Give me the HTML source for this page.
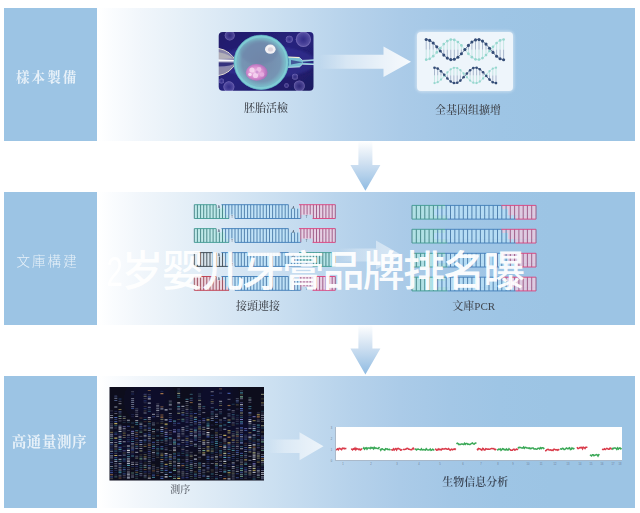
<!DOCTYPE html>
<html lang="zh"><head><meta charset="utf-8"><title>流程</title>
<style>
html,body{margin:0;padding:0;background:#fff;}
body{width:640px;height:513px;overflow:hidden;position:relative;font-family:"Liberation Serif","Noto Serif CJK SC",serif;}
.lb{position:absolute;left:3.5px;width:93.5px;background:#9cc4e4;}
.pn{position:absolute;left:98px;width:537px;background:linear-gradient(90deg,#ffffff 0px,#fafcfe 14px,#f1f6fb 42px,#e6f0f8 82px,#dbe9f5 122px,#cfe2f2 162px,#c4dbef 202px,#b6d2eb 252px,#abcbe8 302px,#a3c7e6 352px,#9ec5e5 402px,#9cc4e4 452px,#9cc4e4 537px);}
.lab{position:absolute;left:3.5px;width:93.5px;text-align:center;color:rgba(255,255,255,.76);font-weight:500;filter:blur(.35px);font-size:13px;line-height:16px;letter-spacing:2.45px;text-indent:2.45px;white-space:nowrap;}
.cap{filter:blur(.3px);position:absolute;text-align:center;color:#41464e;font-weight:500;font-size:11px;line-height:12px;white-space:nowrap;transform:translateX(-50%);}
.wm{position:absolute;left:100px;top:242px;font-family:"Liberation Sans","Noto Sans CJK SC",sans-serif;font-weight:500;font-size:42px;line-height:60px;color:rgba(255,255,255,.95);white-space:nowrap;letter-spacing:-1.8px;}
svg{position:absolute;left:0;top:0;}
</style></head><body>

<div class="lb" style="top:8px;height:132.5px"></div><div class="pn" style="top:8px;height:132.5px"></div>
<div class="lb" style="top:191.5px;height:133.0px"></div><div class="pn" style="top:191.5px;height:133.0px"></div>
<div class="lb" style="top:375.5px;height:132.0px"></div><div class="pn" style="top:375.5px;height:132.0px"></div>
<svg width="640" height="513" viewBox="0 0 640 513">
<defs>
<linearGradient id="ga" x1="0" x2="1" y1="0" y2="0"><stop offset="0" stop-color="#fff" stop-opacity="0"/><stop offset=".3" stop-color="#fff" stop-opacity=".45"/><stop offset=".7" stop-color="#fff" stop-opacity=".75"/><stop offset="1" stop-color="#fff" stop-opacity=".9"/></linearGradient>
<linearGradient id="gd" x1="0" x2="0" y1="0" y2="1"><stop offset="0" stop-color="#ffffff"/><stop offset=".45" stop-color="#cfe0f1"/><stop offset="1" stop-color="#8fbbe2"/></linearGradient>
<radialGradient id="cell" cx=".5" cy=".5" r=".5"><stop offset="0" stop-color="#748aab"/><stop offset=".7" stop-color="#7695b4"/><stop offset=".86" stop-color="#7ab5c6"/><stop offset="1" stop-color="#6cc4cf"/></radialGradient>
<radialGradient id="nuc" cx=".45" cy=".5" r=".55"><stop offset="0" stop-color="#f3c6ea"/><stop offset=".6" stop-color="#d98fd0"/><stop offset="1" stop-color="#a86cb8"/></radialGradient>
<radialGradient id="bub" cx=".5" cy=".5" r=".5"><stop offset="0" stop-color="#5a4fb0" stop-opacity=".25"/><stop offset=".8" stop-color="#8a7fd0" stop-opacity=".45"/><stop offset="1" stop-color="#b5a8e8" stop-opacity=".6"/></radialGradient>
<linearGradient id="emb" x1="0" x2="1" y1="0" y2="1"><stop offset="0" stop-color="#201a68"/><stop offset=".5" stop-color="#27227c"/><stop offset="1" stop-color="#1b185c"/></linearGradient>
<clipPath id="embc"><rect x="218.7" y="32" width="94.8" height="58.7" rx="4"/></clipPath>
<clipPath id="sqc"><rect x="109.5" y="387" width="154.5" height="93.5"/></clipPath>
<filter id="b1"><feGaussianBlur stdDeviation=".6"/></filter>
<filter id="b5"><feGaussianBlur stdDeviation=".5"/></filter>
<filter id="b4"><feGaussianBlur stdDeviation=".8"/></filter>
<filter id="b2"><feGaussianBlur stdDeviation="1.2"/></filter>
<filter id="b3"><feGaussianBlur stdDeviation="6"/></filter>
</defs>
<path d="M319 54.8H383.5V46.55L411 61.8L383.5 77.05V68.8H319Z" fill="url(#ga)" opacity="1"/>
<path d="M338 248.5H376V240.5L401.5 255L376 269.5V261.5H338Z" fill="url(#ga)" opacity="0.6"/>
<path d="M268 439.45H299.5V432.2L323.5 446.2L299.5 460.2V452.95H268Z" fill="url(#ga)" opacity="0.8"/>
<path d="M358.4 141H372.4V165H380.4L365.4 190.8L350.4 165H358.4Z" fill="url(#gd)"/>
<path d="M358.4 325H372.4V348.6H380.4L365.4 374.6L350.4 348.6H358.4Z" fill="url(#gd)"/>
<g clip-path="url(#embc)"><g filter="url(#b5)"><g><rect x="215" y="28" width="103" height="67" fill="url(#emb)"/><ellipse cx="266" cy="62" rx="50" ry="16" fill="#3a3aa0" opacity=".45" filter="url(#b2)"/><circle cx="229.7" cy="35.5" r="5" fill="url(#bub)"/><circle cx="303.4" cy="39.3" r="7.6" fill="url(#bub)"/><circle cx="289.3" cy="39.3" r="3.5" fill="url(#bub)"/><circle cx="228.9" cy="86.8" r="5.5" fill="url(#bub)"/><circle cx="299.3" cy="86" r="5.5" fill="url(#bub)"/><circle cx="295" cy="76.8" r="3" fill="url(#bub)"/><circle cx="221.5" cy="81" r="2.5" fill="url(#bub)"/><circle cx="286.5" cy="85.5" r="2.2" fill="url(#bub)"/><path d="M218 48.5 Q230 50.5 235.5 62 Q230 73.5 218 75.5Z" fill="#a9a7bc" opacity=".75"/><path d="M218 52 Q229 54 233.5 58.5 L218 59Z" fill="#cfcbc0" opacity=".6"/><path d="M218 59.3 L234.5 60 L234.5 61.6 L218 61.4Z" fill="#ffffff" opacity=".95"/><path d="M218 62.5 L235 62.8 Q233 66.5 218 66.5Z" fill="#2a2a78" opacity=".9"/><path d="M218 67.5 Q229 68 233 67 Q229 72.5 218 74Z" fill="#8d8aa8" opacity=".8"/><path d="M218 48.3 Q231 50.5 236 62 Q231 73.5 218 75.7" fill="none" stroke="#e8e2d2" stroke-width="1"/><path d="M287.5 56.8 L299.5 57.6 L302.5 60.4 L315 59.6 L315 60.8 L303 61.8 L303 62.8 L315 63.6 L315 64.8 L302.5 64.2 L299.5 67 L287.5 67.6 Q290.5 62 287.5 56.8Z" fill="#7fcfdc" opacity=".9"/><path d="M288 57 L299.5 57.7" fill="none" stroke="#f4f0d0" stroke-width="1.2"/><path d="M288 67.4 L299.5 66.9 L302.5 64.2 L315 64.6 M299.5 57.7 L302.5 60.4 L315 59.8" fill="none" stroke="#d8f2f6" stroke-width=".8" opacity=".9"/><path d="M291 60 L303 62.2 L291 64.6Z" fill="#2c2c80" opacity=".7"/><circle cx="261.2" cy="62.3" r="27.4" fill="url(#cell)"/><ellipse cx="259" cy="52" rx="19" ry="12" fill="#6a80a6" opacity=".45" filter="url(#b2)"/><circle cx="261.2" cy="62.3" r="25.9" fill="none" stroke="#8ad6da" stroke-width="2.2" opacity=".6"/><circle cx="261.2" cy="62.3" r="27.2" fill="none" stroke="#5aa9bd" stroke-width=".7" opacity=".8"/><ellipse cx="256.7" cy="72.4" rx="10.9" ry="8.4" fill="url(#nuc)"/><circle cx="252" cy="70" r="2.6" fill="#f7dff3" opacity=".8"/><circle cx="259" cy="69.5" r="2.4" fill="#f0c4ea" opacity=".8"/><circle cx="255.5" cy="75.5" r="2.6" fill="#f6d8f2" opacity=".8"/><circle cx="262" cy="74.5" r="2.3" fill="#e8b2e2" opacity=".8"/><circle cx="250" cy="74.5" r="1.8" fill="#fbeefa" opacity=".8"/><circle cx="257" cy="72" r="1.6" fill="#c98fd0" opacity=".8"/><ellipse cx="270.3" cy="49.2" rx="5.3" ry="4.6" fill="#f3f1f4"/><ellipse cx="270.5" cy="49.4" rx="2.6" ry="2.2" fill="#cfc6d2" opacity=".7"/></g></g></g>
<rect x="415.5" y="30.5" width="99" height="62" rx="6" fill="#fff" opacity=".35" filter="url(#b2)"/>
<rect x="417" y="32" width="96" height="59" rx="4" fill="#eef5fb"/>
<g filter="url(#b1)" opacity=".95">
<path d="M426.2 49.6V59.7M429.7 49.6V58.8M433.2 49.6V56.2M436.8 49.6V52.4M443.8 49.6V44.1M447.3 49.6V41.1M450.8 49.6V39.6M454.3 49.6V39.9M457.9 49.6V42.0M461.4 49.6V45.4M468.4 49.6V53.8M471.9 49.6V57.2M475.5 49.6V59.3M479.0 49.6V59.6M482.5 49.6V58.1M486.0 49.6V55.1M493.0 49.6V46.8M496.6 49.6V43.0M500.1 49.6V40.4M503.6 49.6V39.5" stroke="#b0e0d9" stroke-width=".7" fill="none"/><path d="M426.2 39.5V49.6M429.7 40.4V49.6M433.2 43.0V49.6M436.8 46.8V49.6M443.8 55.1V49.6M447.3 58.1V49.6M450.8 59.6V49.6M454.3 59.3V49.6M457.9 57.2V49.6M461.4 53.8V49.6M468.4 45.4V49.6M471.9 42.0V49.6M475.5 39.9V49.6M479.0 39.6V49.6M482.5 41.1V49.6M486.0 44.1V49.6M493.0 52.4V49.6M496.6 56.2V49.6M500.1 58.8V49.6M503.6 59.7V49.6" stroke="#8496b4" stroke-width=".7" fill="none"/><polyline points="426.2,59.7 427.2,59.6 428.2,59.4 429.2,59.0 430.2,58.5 431.2,57.9 432.2,57.1 433.2,56.2 434.2,55.2 435.2,54.2 436.3,53.0 437.3,51.8 438.3,50.6 439.3,49.4 440.3,48.2 441.3,47.0 442.3,45.8 443.3,44.7 444.3,43.6 445.3,42.7 446.3,41.8 447.3,41.1 448.3,40.5 449.3,40.0 450.3,39.7 451.3,39.5 452.3,39.5 453.3,39.6 454.3,39.9 455.4,40.3 456.4,40.9 457.4,41.6 458.4,42.4 459.4,43.3 460.4,44.3 461.4,45.4 462.4,46.6 463.4,47.8 464.4,49.0 465.4,50.2 466.4,51.4 467.4,52.6 468.4,53.8 469.4,54.9 470.4,55.9 471.4,56.8 472.4,57.6 473.4,58.3 474.4,58.9 475.5,59.3 476.5,59.6 477.5,59.7 478.5,59.7 479.5,59.5 480.5,59.2 481.5,58.7 482.5,58.1 483.5,57.4 484.5,56.5 485.5,55.6 486.5,54.5 487.5,53.4 488.5,52.2 489.5,51.0 490.5,49.8 491.5,48.6 492.5,47.4 493.5,46.2 494.6,45.0 495.6,44.0 496.6,43.0 497.6,42.1 498.6,41.3 499.6,40.7 500.6,40.2 501.6,39.8 502.6,39.6 503.6,39.5" fill="none" stroke="#93d6cd" stroke-width=".6"/><polyline points="426.2,39.5 427.2,39.6 428.2,39.8 429.2,40.2 430.2,40.7 431.2,41.3 432.2,42.1 433.2,43.0 434.2,44.0 435.2,45.0 436.3,46.2 437.3,47.4 438.3,48.6 439.3,49.8 440.3,51.0 441.3,52.2 442.3,53.4 443.3,54.5 444.3,55.6 445.3,56.5 446.3,57.4 447.3,58.1 448.3,58.7 449.3,59.2 450.3,59.5 451.3,59.7 452.3,59.7 453.3,59.6 454.3,59.3 455.4,58.9 456.4,58.3 457.4,57.6 458.4,56.8 459.4,55.9 460.4,54.9 461.4,53.8 462.4,52.6 463.4,51.4 464.4,50.2 465.4,49.0 466.4,47.8 467.4,46.6 468.4,45.4 469.4,44.3 470.4,43.3 471.4,42.4 472.4,41.6 473.4,40.9 474.4,40.3 475.5,39.9 476.5,39.6 477.5,39.5 478.5,39.5 479.5,39.7 480.5,40.0 481.5,40.5 482.5,41.1 483.5,41.8 484.5,42.7 485.5,43.6 486.5,44.7 487.5,45.8 488.5,47.0 489.5,48.2 490.5,49.4 491.5,50.6 492.5,51.8 493.5,53.0 494.6,54.2 495.6,55.2 496.6,56.2 497.6,57.1 498.6,57.9 499.6,58.5 500.6,59.0 501.6,59.4 502.6,59.6 503.6,59.7" fill="none" stroke="#2c4470" stroke-width=".8"/><g fill="#93d6cd"><circle cx="426.2" cy="59.7" r="1.36"/><circle cx="429.7" cy="58.8" r="1.36"/><circle cx="433.2" cy="56.2" r="1.36"/><circle cx="436.8" cy="52.4" r="1.36"/><circle cx="440.3" cy="48.2" r="1.36"/><circle cx="443.8" cy="44.1" r="1.36"/><circle cx="447.3" cy="41.1" r="1.36"/><circle cx="450.8" cy="39.6" r="1.36"/><circle cx="454.3" cy="39.9" r="1.36"/><circle cx="457.9" cy="42.0" r="1.36"/><circle cx="461.4" cy="45.4" r="1.36"/><circle cx="464.9" cy="49.6" r="1.36"/><circle cx="468.4" cy="53.8" r="1.36"/><circle cx="471.9" cy="57.2" r="1.36"/><circle cx="475.5" cy="59.3" r="1.36"/><circle cx="479.0" cy="59.6" r="1.36"/><circle cx="482.5" cy="58.1" r="1.36"/><circle cx="486.0" cy="55.1" r="1.36"/><circle cx="489.5" cy="51.0" r="1.36"/><circle cx="493.0" cy="46.8" r="1.36"/><circle cx="496.6" cy="43.0" r="1.36"/><circle cx="500.1" cy="40.4" r="1.36"/><circle cx="503.6" cy="39.5" r="1.36"/></g><g fill="#2c4470"><circle cx="426.2" cy="39.5" r="1.55"/><circle cx="429.7" cy="40.4" r="1.55"/><circle cx="433.2" cy="43.0" r="1.55"/><circle cx="436.8" cy="46.8" r="1.55"/><circle cx="440.3" cy="51.0" r="1.55"/><circle cx="443.8" cy="55.1" r="1.55"/><circle cx="447.3" cy="58.1" r="1.55"/><circle cx="450.8" cy="59.6" r="1.55"/><circle cx="454.3" cy="59.3" r="1.55"/><circle cx="457.9" cy="57.2" r="1.55"/><circle cx="461.4" cy="53.8" r="1.55"/><circle cx="464.9" cy="49.6" r="1.55"/><circle cx="468.4" cy="45.4" r="1.55"/><circle cx="471.9" cy="42.0" r="1.55"/><circle cx="475.5" cy="39.9" r="1.55"/><circle cx="479.0" cy="39.6" r="1.55"/><circle cx="482.5" cy="41.1" r="1.55"/><circle cx="486.0" cy="44.1" r="1.55"/><circle cx="489.5" cy="48.2" r="1.55"/><circle cx="493.0" cy="52.4" r="1.55"/><circle cx="496.6" cy="56.2" r="1.55"/><circle cx="500.1" cy="58.8" r="1.55"/><circle cx="503.6" cy="59.7" r="1.55"/></g>
<path d="M434.5 75.4V83.1M437.7 75.4V82.2M441.0 75.4V79.6M447.4 75.4V72.3M450.7 75.4V69.3M453.9 75.4V67.8M457.2 75.4V68.1M460.4 75.4V70.2M463.6 75.4V73.5M466.9 75.4V77.3M470.1 75.4V80.6M473.3 75.4V82.7M476.6 75.4V83.0M479.8 75.4V81.5M483.1 75.4V78.5M489.5 75.4V71.2M492.8 75.4V68.6M496.0 75.4V67.7" stroke="#b0e0d9" stroke-width=".7" fill="none"/><path d="M434.5 67.7V75.4M437.7 68.6V75.4M441.0 71.2V75.4M447.4 78.5V75.4M450.7 81.5V75.4M453.9 83.0V75.4M457.2 82.7V75.4M460.4 80.6V75.4M463.6 77.3V75.4M466.9 73.5V75.4M470.1 70.2V75.4M473.3 68.1V75.4M476.6 67.8V75.4M479.8 69.3V75.4M483.1 72.3V75.4M489.5 79.6V75.4M492.8 82.2V75.4M496.0 83.1V75.4" stroke="#8496b4" stroke-width=".7" fill="none"/><polyline points="434.5,83.1 435.5,83.0 436.5,82.7 437.5,82.3 438.5,81.7 439.5,80.9 440.5,80.0 441.6,79.0 442.6,77.9 443.6,76.8 444.6,75.6 445.6,74.4 446.6,73.2 447.6,72.1 448.6,71.1 449.6,70.2 450.6,69.4 451.6,68.7 452.6,68.2 453.7,67.9 454.7,67.7 455.7,67.7 456.7,68.0 457.7,68.3 458.7,68.9 459.7,69.6 460.7,70.5 461.7,71.4 462.7,72.5 463.7,73.6 464.7,74.8 465.8,76.0 466.8,77.2 467.8,78.3 468.8,79.4 469.8,80.3 470.8,81.2 471.8,81.9 472.8,82.5 473.8,82.8 474.8,83.1 475.8,83.1 476.8,82.9 477.9,82.6 478.9,82.1 479.9,81.4 480.9,80.6 481.9,79.7 482.9,78.7 483.9,77.6 484.9,76.4 485.9,75.2 486.9,74.0 487.9,72.9 488.9,71.8 490.0,70.8 491.0,69.9 492.0,69.1 493.0,68.5 494.0,68.1 495.0,67.8 496.0,67.7" fill="none" stroke="#93d6cd" stroke-width=".6"/><polyline points="434.5,67.7 435.5,67.8 436.5,68.1 437.5,68.5 438.5,69.1 439.5,69.9 440.5,70.8 441.6,71.8 442.6,72.9 443.6,74.0 444.6,75.2 445.6,76.4 446.6,77.6 447.6,78.7 448.6,79.7 449.6,80.6 450.6,81.4 451.6,82.1 452.6,82.6 453.7,82.9 454.7,83.1 455.7,83.1 456.7,82.8 457.7,82.5 458.7,81.9 459.7,81.2 460.7,80.3 461.7,79.4 462.7,78.3 463.7,77.2 464.7,76.0 465.8,74.8 466.8,73.6 467.8,72.5 468.8,71.4 469.8,70.5 470.8,69.6 471.8,68.9 472.8,68.3 473.8,68.0 474.8,67.7 475.8,67.7 476.8,67.9 477.9,68.2 478.9,68.7 479.9,69.4 480.9,70.2 481.9,71.1 482.9,72.1 483.9,73.2 484.9,74.4 485.9,75.6 486.9,76.8 487.9,77.9 488.9,79.0 490.0,80.0 491.0,80.9 492.0,81.7 493.0,82.3 494.0,82.7 495.0,83.0 496.0,83.1" fill="none" stroke="#2c4470" stroke-width=".8"/><g fill="#93d6cd"><circle cx="434.5" cy="83.1" r="1.14"/><circle cx="437.7" cy="82.2" r="1.14"/><circle cx="441.0" cy="79.6" r="1.14"/><circle cx="444.2" cy="76.0" r="1.14"/><circle cx="447.4" cy="72.3" r="1.14"/><circle cx="450.7" cy="69.3" r="1.14"/><circle cx="453.9" cy="67.8" r="1.14"/><circle cx="457.2" cy="68.1" r="1.14"/><circle cx="460.4" cy="70.2" r="1.14"/><circle cx="463.6" cy="73.5" r="1.14"/><circle cx="466.9" cy="77.3" r="1.14"/><circle cx="470.1" cy="80.6" r="1.14"/><circle cx="473.3" cy="82.7" r="1.14"/><circle cx="476.6" cy="83.0" r="1.14"/><circle cx="479.8" cy="81.5" r="1.14"/><circle cx="483.1" cy="78.5" r="1.14"/><circle cx="486.3" cy="74.8" r="1.14"/><circle cx="489.5" cy="71.2" r="1.14"/><circle cx="492.8" cy="68.6" r="1.14"/><circle cx="496.0" cy="67.7" r="1.14"/></g><g fill="#2c4470"><circle cx="434.5" cy="67.7" r="1.3"/><circle cx="437.7" cy="68.6" r="1.3"/><circle cx="441.0" cy="71.2" r="1.3"/><circle cx="444.2" cy="74.8" r="1.3"/><circle cx="447.4" cy="78.5" r="1.3"/><circle cx="450.7" cy="81.5" r="1.3"/><circle cx="453.9" cy="83.0" r="1.3"/><circle cx="457.2" cy="82.7" r="1.3"/><circle cx="460.4" cy="80.6" r="1.3"/><circle cx="463.6" cy="77.3" r="1.3"/><circle cx="466.9" cy="73.5" r="1.3"/><circle cx="470.1" cy="70.2" r="1.3"/><circle cx="473.3" cy="68.1" r="1.3"/><circle cx="476.6" cy="67.8" r="1.3"/><circle cx="479.8" cy="69.3" r="1.3"/><circle cx="483.1" cy="72.3" r="1.3"/><circle cx="486.3" cy="76.0" r="1.3"/><circle cx="489.5" cy="79.6" r="1.3"/><circle cx="492.8" cy="82.2" r="1.3"/><circle cx="496.0" cy="83.1" r="1.3"/></g>
</g>
<g filter="url(#b1)">
<rect x="194.3" y="208.29999999999998" width="30.7" height="6.6000000000000005" fill="#b4e8e4" opacity=".75"/><rect x="225" y="208.29999999999998" width="75.0" height="6.6000000000000005" fill="#bce3fa" opacity=".75"/><rect x="300" y="208.29999999999998" width="35.3" height="6.6000000000000005" fill="#f4cde0" opacity=".75"/><rect x="194.3" y="204.7" width="21.7" height="3.7" fill="#b4e8e4" opacity=".75"/><rect x="221.5" y="204.7" width="66.9" height="3.7" fill="#bce3fa" opacity=".75"/><rect x="299" y="204.7" width="36.3" height="3.7" fill="#f4cde0" opacity=".75"/><rect x="194.3" y="214.8" width="34.7" height="3.7" fill="#b4e8e4" opacity=".75"/><rect x="235" y="214.8" width="65.7" height="3.7" fill="#bce3fa" opacity=".75"/><rect x="312.6" y="214.8" width="22.7" height="3.7" fill="#f4cde0" opacity=".75"/><path d="M194.3 204.7V218.5M197.4 204.7V218.5M200.6 204.7V218.5M203.7 204.7V218.5M206.8 204.7V218.5M210.0 204.7V218.5M213.1 204.7V218.5M216.2 204.7V218.5M219.4 208.7V218.5M222.5 204.7V218.5" stroke="#2f7274" stroke-width=".8" fill="none"/><path d="M225.6 204.7V218.5M228.8 204.7V218.5M231.9 204.7V214.5M235.0 204.7V218.5M238.2 204.7V218.5M241.3 204.7V218.5M244.4 204.7V218.5M247.6 204.7V218.5M250.7 204.7V218.5M253.8 204.7V218.5M257.0 204.7V218.5M260.1 204.7V218.5M263.2 204.7V218.5M266.4 204.7V218.5M269.5 204.7V218.5M272.6 204.7V218.5M275.8 204.7V218.5M278.9 204.7V218.5M282.0 204.7V218.5M285.2 204.7V218.5M288.3 204.7V218.5M291.4 208.7V218.5M294.6 208.7V218.5M297.7 208.7V218.5" stroke="#376a9c" stroke-width=".8" fill="none"/><path d="M300.8 204.7V218.5M304.0 204.7V214.5M307.1 204.7V214.5M310.2 204.7V214.5M313.4 204.7V218.5M316.5 204.7V218.5M319.6 204.7V218.5M322.8 204.7V218.5M325.9 204.7V218.5M329.0 204.7V218.5M332.2 204.7V218.5M335.3 204.7V218.5" stroke="#8e4474" stroke-width=".8" fill="none"/><line x1="194.3" y1="204.7" x2="216" y2="204.7" stroke="#3f9a92" stroke-width=".9"/><line x1="221.5" y1="204.7" x2="288.4" y2="204.7" stroke="#3f7db8" stroke-width=".9"/><line x1="299" y1="204.7" x2="335.3" y2="204.7" stroke="#dc3f7c" stroke-width=".9"/><line x1="194.3" y1="218.5" x2="229" y2="218.5" stroke="#3f9a92" stroke-width=".9"/><line x1="235" y1="218.5" x2="300.7" y2="218.5" stroke="#3f7db8" stroke-width=".9"/><line x1="312.6" y1="218.5" x2="335.3" y2="218.5" stroke="#dc3f7c" stroke-width=".9"/>
<text x="218.8" y="208.3" font-size="3.4" text-anchor="middle" fill="#44566a" font-family="Liberation Sans,sans-serif">A</text>
<text x="232" y="217.9" font-size="3.4" text-anchor="middle" fill="#44566a" font-family="Liberation Sans,sans-serif">T</text>
<text x="293.5" y="208.7" font-size="3.4" text-anchor="middle" fill="#44566a" font-family="Liberation Sans,sans-serif">A</text>
<text x="306.5" y="217.7" font-size="3.4" text-anchor="middle" fill="#44566a" font-family="Liberation Sans,sans-serif">T</text>
<rect x="194.3" y="232.2" width="30.7" height="6.6000000000000005" fill="#b4e8e4" opacity=".75"/><rect x="225" y="232.2" width="75.0" height="6.6000000000000005" fill="#bce3fa" opacity=".75"/><rect x="300" y="232.2" width="35.3" height="6.6000000000000005" fill="#f4cde0" opacity=".75"/><rect x="194.3" y="228.6" width="21.7" height="3.7" fill="#b4e8e4" opacity=".75"/><rect x="221.5" y="228.6" width="66.9" height="3.7" fill="#bce3fa" opacity=".75"/><rect x="299" y="228.6" width="36.3" height="3.7" fill="#f4cde0" opacity=".75"/><rect x="194.3" y="238.70000000000002" width="34.7" height="3.7" fill="#b4e8e4" opacity=".75"/><rect x="235" y="238.70000000000002" width="65.7" height="3.7" fill="#bce3fa" opacity=".75"/><rect x="312.6" y="238.70000000000002" width="22.7" height="3.7" fill="#f4cde0" opacity=".75"/><path d="M194.3 228.6V242.4M197.4 228.6V242.4M200.6 228.6V242.4M203.7 228.6V242.4M206.8 228.6V242.4M210.0 228.6V242.4M213.1 228.6V242.4M216.2 228.6V242.4M219.4 232.6V242.4M222.5 228.6V242.4" stroke="#2f7274" stroke-width=".8" fill="none"/><path d="M225.6 228.6V242.4M228.8 228.6V242.4M231.9 228.6V238.4M235.0 228.6V242.4M238.2 228.6V242.4M241.3 228.6V242.4M244.4 228.6V242.4M247.6 228.6V242.4M250.7 228.6V242.4M253.8 228.6V242.4M257.0 228.6V242.4M260.1 228.6V242.4M263.2 228.6V242.4M266.4 228.6V242.4M269.5 228.6V242.4M272.6 228.6V242.4M275.8 228.6V242.4M278.9 228.6V242.4M282.0 228.6V242.4M285.2 228.6V242.4M288.3 228.6V242.4M291.4 232.6V242.4M294.6 232.6V242.4M297.7 232.6V242.4" stroke="#376a9c" stroke-width=".8" fill="none"/><path d="M300.8 228.6V242.4M304.0 228.6V238.4M307.1 228.6V238.4M310.2 228.6V238.4M313.4 228.6V242.4M316.5 228.6V242.4M319.6 228.6V242.4M322.8 228.6V242.4M325.9 228.6V242.4M329.0 228.6V242.4M332.2 228.6V242.4M335.3 228.6V242.4" stroke="#8e4474" stroke-width=".8" fill="none"/><line x1="194.3" y1="228.6" x2="216" y2="228.6" stroke="#3f9a92" stroke-width=".9"/><line x1="221.5" y1="228.6" x2="288.4" y2="228.6" stroke="#3f7db8" stroke-width=".9"/><line x1="299" y1="228.6" x2="335.3" y2="228.6" stroke="#dc3f7c" stroke-width=".9"/><line x1="194.3" y1="242.4" x2="229" y2="242.4" stroke="#3f9a92" stroke-width=".9"/><line x1="235" y1="242.4" x2="300.7" y2="242.4" stroke="#3f7db8" stroke-width=".9"/><line x1="312.6" y1="242.4" x2="335.3" y2="242.4" stroke="#dc3f7c" stroke-width=".9"/>
<text x="218.8" y="232.2" font-size="3.4" text-anchor="middle" fill="#44566a" font-family="Liberation Sans,sans-serif">A</text>
<text x="232" y="241.8" font-size="3.4" text-anchor="middle" fill="#44566a" font-family="Liberation Sans,sans-serif">T</text>
<text x="293.5" y="232.6" font-size="3.4" text-anchor="middle" fill="#44566a" font-family="Liberation Sans,sans-serif">A</text>
<text x="306.5" y="241.6" font-size="3.4" text-anchor="middle" fill="#44566a" font-family="Liberation Sans,sans-serif">T</text>
<rect x="194.3" y="256.2" width="30.7" height="6.6000000000000005" fill="#d5e2e8" opacity=".75"/><rect x="225" y="256.2" width="75.0" height="6.6000000000000005" fill="#bce3fa" opacity=".75"/><rect x="300" y="256.2" width="35.3" height="6.6000000000000005" fill="#b4e8e4" opacity=".75"/><rect x="194.3" y="252.6" width="21.7" height="3.7" fill="#d5e2e8" opacity=".75"/><rect x="221.5" y="252.6" width="66.9" height="3.7" fill="#bce3fa" opacity=".75"/><rect x="299" y="252.6" width="36.3" height="3.7" fill="#b4e8e4" opacity=".75"/><rect x="194.3" y="262.7" width="34.7" height="3.7" fill="#d5e2e8" opacity=".75"/><rect x="235" y="262.7" width="65.7" height="3.7" fill="#bce3fa" opacity=".75"/><rect x="312.6" y="262.7" width="22.7" height="3.7" fill="#b4e8e4" opacity=".75"/><path d="M194.3 252.6V266.4M197.4 252.6V266.4M200.6 252.6V266.4M203.7 252.6V266.4M206.8 252.6V266.4M210.0 252.6V266.4M213.1 252.6V266.4M216.2 252.6V266.4M219.4 256.6V266.4M222.5 252.6V266.4" stroke="#2c3840" stroke-width=".8" fill="none"/><path d="M225.6 252.6V266.4M228.8 252.6V266.4M231.9 252.6V262.4M235.0 252.6V266.4M238.2 252.6V266.4M241.3 252.6V266.4M244.4 252.6V266.4M247.6 252.6V266.4M250.7 252.6V266.4M253.8 252.6V266.4M257.0 252.6V266.4M260.1 252.6V266.4M263.2 252.6V266.4M266.4 252.6V266.4M269.5 252.6V266.4M272.6 252.6V266.4M275.8 252.6V266.4M278.9 252.6V266.4M282.0 252.6V266.4M285.2 252.6V266.4M288.3 252.6V266.4M291.4 256.6V266.4M294.6 256.6V266.4M297.7 256.6V266.4" stroke="#376a9c" stroke-width=".8" fill="none"/><path d="M300.8 252.6V266.4M304.0 252.6V262.4M307.1 252.6V262.4M310.2 252.6V262.4M313.4 252.6V266.4M316.5 252.6V266.4M319.6 252.6V266.4M322.8 252.6V266.4M325.9 252.6V266.4M329.0 252.6V266.4M332.2 252.6V266.4M335.3 252.6V266.4" stroke="#2f7274" stroke-width=".8" fill="none"/><line x1="194.3" y1="252.6" x2="216" y2="252.6" stroke="#34424c" stroke-width=".9"/><line x1="221.5" y1="252.6" x2="288.4" y2="252.6" stroke="#3f7db8" stroke-width=".9"/><line x1="299" y1="252.6" x2="335.3" y2="252.6" stroke="#3f9a92" stroke-width=".9"/><line x1="194.3" y1="266.4" x2="229" y2="266.4" stroke="#34424c" stroke-width=".9"/><line x1="235" y1="266.4" x2="300.7" y2="266.4" stroke="#3f7db8" stroke-width=".9"/><line x1="312.6" y1="266.4" x2="335.3" y2="266.4" stroke="#3f9a92" stroke-width=".9"/>
<text x="218.8" y="256.2" font-size="3.4" text-anchor="middle" fill="#44566a" font-family="Liberation Sans,sans-serif">A</text>
<text x="232" y="265.8" font-size="3.4" text-anchor="middle" fill="#44566a" font-family="Liberation Sans,sans-serif">T</text>
<text x="293.5" y="256.6" font-size="3.4" text-anchor="middle" fill="#44566a" font-family="Liberation Sans,sans-serif">A</text>
<text x="306.5" y="265.6" font-size="3.4" text-anchor="middle" fill="#44566a" font-family="Liberation Sans,sans-serif">T</text>
<rect x="194.3" y="280.1" width="30.7" height="6.6000000000000005" fill="#f2ccd4" opacity=".75"/><rect x="225" y="280.1" width="75.0" height="6.6000000000000005" fill="#bce3fa" opacity=".75"/><rect x="300" y="280.1" width="35.3" height="6.6000000000000005" fill="#f4cde0" opacity=".75"/><rect x="194.3" y="276.5" width="21.7" height="3.7" fill="#f2ccd4" opacity=".75"/><rect x="221.5" y="276.5" width="66.9" height="3.7" fill="#bce3fa" opacity=".75"/><rect x="299" y="276.5" width="36.3" height="3.7" fill="#f4cde0" opacity=".75"/><rect x="194.3" y="286.6" width="34.7" height="3.7" fill="#f2ccd4" opacity=".75"/><rect x="235" y="286.6" width="65.7" height="3.7" fill="#bce3fa" opacity=".75"/><rect x="312.6" y="286.6" width="22.7" height="3.7" fill="#f4cde0" opacity=".75"/><path d="M194.3 276.5V290.3M197.4 276.5V290.3M200.6 276.5V290.3M203.7 276.5V290.3M206.8 276.5V290.3M210.0 276.5V290.3M213.1 276.5V290.3M216.2 276.5V290.3M219.4 280.5V290.3M222.5 276.5V290.3" stroke="#8a3645" stroke-width=".8" fill="none"/><path d="M225.6 276.5V290.3M228.8 276.5V290.3M231.9 276.5V286.3M235.0 276.5V290.3M238.2 276.5V290.3M241.3 276.5V290.3M244.4 276.5V290.3M247.6 276.5V290.3M250.7 276.5V290.3M253.8 276.5V290.3M257.0 276.5V290.3M260.1 276.5V290.3M263.2 276.5V290.3M266.4 276.5V290.3M269.5 276.5V290.3M272.6 276.5V290.3M275.8 276.5V290.3M278.9 276.5V290.3M282.0 276.5V290.3M285.2 276.5V290.3M288.3 276.5V290.3M291.4 280.5V290.3M294.6 280.5V290.3M297.7 280.5V290.3" stroke="#376a9c" stroke-width=".8" fill="none"/><path d="M300.8 276.5V290.3M304.0 276.5V286.3M307.1 276.5V286.3M310.2 276.5V286.3M313.4 276.5V290.3M316.5 276.5V290.3M319.6 276.5V290.3M322.8 276.5V290.3M325.9 276.5V290.3M329.0 276.5V290.3M332.2 276.5V290.3M335.3 276.5V290.3" stroke="#8e4474" stroke-width=".8" fill="none"/><line x1="194.3" y1="276.5" x2="216" y2="276.5" stroke="#c0394b" stroke-width=".9"/><line x1="221.5" y1="276.5" x2="288.4" y2="276.5" stroke="#3f7db8" stroke-width=".9"/><line x1="299" y1="276.5" x2="335.3" y2="276.5" stroke="#dc3f7c" stroke-width=".9"/><line x1="194.3" y1="290.3" x2="229" y2="290.3" stroke="#c0394b" stroke-width=".9"/><line x1="235" y1="290.3" x2="300.7" y2="290.3" stroke="#3f7db8" stroke-width=".9"/><line x1="312.6" y1="290.3" x2="335.3" y2="290.3" stroke="#dc3f7c" stroke-width=".9"/>
<text x="218.8" y="280.1" font-size="3.4" text-anchor="middle" fill="#44566a" font-family="Liberation Sans,sans-serif">A</text>
<text x="232" y="289.7" font-size="3.4" text-anchor="middle" fill="#44566a" font-family="Liberation Sans,sans-serif">T</text>
<text x="293.5" y="280.5" font-size="3.4" text-anchor="middle" fill="#44566a" font-family="Liberation Sans,sans-serif">A</text>
<text x="306.5" y="289.5" font-size="3.4" text-anchor="middle" fill="#44566a" font-family="Liberation Sans,sans-serif">T</text>
<rect x="412" y="208.99999999999997" width="22.0" height="6.499999999999999" fill="#b4e8e4" opacity=".75"/><rect x="434" y="208.99999999999997" width="74.0" height="6.499999999999999" fill="#bce3fa" opacity=".75"/><rect x="508" y="208.99999999999997" width="28.0" height="6.499999999999999" fill="#f4cde0" opacity=".75"/><rect x="412" y="205.39999999999998" width="33.0" height="3.7" fill="#b4e8e4" opacity=".75"/><rect x="445" y="205.39999999999998" width="56.3" height="3.7" fill="#bce3fa" opacity=".75"/><rect x="501.3" y="205.39999999999998" width="34.7" height="3.7" fill="#f4cde0" opacity=".75"/><rect x="412" y="215.39999999999998" width="35.5" height="3.7" fill="#b4e8e4" opacity=".75"/><rect x="447.5" y="215.39999999999998" width="68.1" height="3.7" fill="#bce3fa" opacity=".75"/><rect x="515.6" y="215.39999999999998" width="20.4" height="3.7" fill="#f4cde0" opacity=".75"/><path d="M412.0 205.4V219.1M416.3 205.4V219.1M420.6 205.4V219.1M424.8 205.4V219.1M429.1 205.4V219.1M433.4 205.4V219.1" stroke="#2f7274" stroke-width=".8" fill="none"/><path d="M437.7 205.4V219.1M441.9 205.4V219.1M446.2 205.4V219.1M450.5 205.4V219.1M454.8 205.4V219.1M459.0 205.4V219.1M463.3 205.4V219.1M467.6 205.4V219.1M471.9 205.4V219.1M476.1 205.4V219.1M480.4 205.4V219.1M484.7 205.4V219.1M489.0 205.4V219.1M493.2 205.4V219.1M497.5 205.4V219.1M501.8 205.4V219.1M506.1 205.4V219.1" stroke="#376a9c" stroke-width=".8" fill="none"/><path d="M510.3 205.4V219.1M514.6 205.4V219.1M518.9 205.4V219.1M523.2 205.4V219.1M527.4 205.4V219.1M531.7 205.4V219.1M536.0 205.4V219.1" stroke="#8e4474" stroke-width=".8" fill="none"/><line x1="412" y1="205.39999999999998" x2="445" y2="205.39999999999998" stroke="#3f9a92" stroke-width=".9"/><line x1="445" y1="205.39999999999998" x2="501.3" y2="205.39999999999998" stroke="#3f7db8" stroke-width=".9"/><line x1="501.3" y1="205.39999999999998" x2="536" y2="205.39999999999998" stroke="#dc3f7c" stroke-width=".9"/><line x1="412" y1="219.09999999999997" x2="447.5" y2="219.09999999999997" stroke="#3f9a92" stroke-width=".9"/><line x1="447.5" y1="219.09999999999997" x2="515.6" y2="219.09999999999997" stroke="#3f7db8" stroke-width=".9"/><line x1="515.6" y1="219.09999999999997" x2="536" y2="219.09999999999997" stroke="#dc3f7c" stroke-width=".9"/>
<rect x="412" y="232.89999999999998" width="22.0" height="6.499999999999999" fill="#b4e8e4" opacity=".75"/><rect x="434" y="232.89999999999998" width="74.0" height="6.499999999999999" fill="#bce3fa" opacity=".75"/><rect x="508" y="232.89999999999998" width="28.0" height="6.499999999999999" fill="#f4cde0" opacity=".75"/><rect x="412" y="229.29999999999998" width="33.0" height="3.7" fill="#b4e8e4" opacity=".75"/><rect x="445" y="229.29999999999998" width="56.3" height="3.7" fill="#bce3fa" opacity=".75"/><rect x="501.3" y="229.29999999999998" width="34.7" height="3.7" fill="#f4cde0" opacity=".75"/><rect x="412" y="239.29999999999998" width="35.5" height="3.7" fill="#b4e8e4" opacity=".75"/><rect x="447.5" y="239.29999999999998" width="68.1" height="3.7" fill="#bce3fa" opacity=".75"/><rect x="515.6" y="239.29999999999998" width="20.4" height="3.7" fill="#f4cde0" opacity=".75"/><path d="M412.0 229.3V243.0M416.3 229.3V243.0M420.6 229.3V243.0M424.8 229.3V243.0M429.1 229.3V243.0M433.4 229.3V243.0" stroke="#2f7274" stroke-width=".8" fill="none"/><path d="M437.7 229.3V243.0M441.9 229.3V243.0M446.2 229.3V243.0M450.5 229.3V243.0M454.8 229.3V243.0M459.0 229.3V243.0M463.3 229.3V243.0M467.6 229.3V243.0M471.9 229.3V243.0M476.1 229.3V243.0M480.4 229.3V243.0M484.7 229.3V243.0M489.0 229.3V243.0M493.2 229.3V243.0M497.5 229.3V243.0M501.8 229.3V243.0M506.1 229.3V243.0" stroke="#376a9c" stroke-width=".8" fill="none"/><path d="M510.3 229.3V243.0M514.6 229.3V243.0M518.9 229.3V243.0M523.2 229.3V243.0M527.4 229.3V243.0M531.7 229.3V243.0M536.0 229.3V243.0" stroke="#8e4474" stroke-width=".8" fill="none"/><line x1="412" y1="229.29999999999998" x2="445" y2="229.29999999999998" stroke="#3f9a92" stroke-width=".9"/><line x1="445" y1="229.29999999999998" x2="501.3" y2="229.29999999999998" stroke="#3f7db8" stroke-width=".9"/><line x1="501.3" y1="229.29999999999998" x2="536" y2="229.29999999999998" stroke="#dc3f7c" stroke-width=".9"/><line x1="412" y1="242.99999999999997" x2="447.5" y2="242.99999999999997" stroke="#3f9a92" stroke-width=".9"/><line x1="447.5" y1="242.99999999999997" x2="515.6" y2="242.99999999999997" stroke="#3f7db8" stroke-width=".9"/><line x1="515.6" y1="242.99999999999997" x2="536" y2="242.99999999999997" stroke="#dc3f7c" stroke-width=".9"/>
<rect x="412" y="256.9" width="22.0" height="6.499999999999999" fill="#b4e8e4" opacity=".75"/><rect x="434" y="256.9" width="74.0" height="6.499999999999999" fill="#bce3fa" opacity=".75"/><rect x="508" y="256.9" width="28.0" height="6.499999999999999" fill="#f4cde0" opacity=".75"/><rect x="412" y="253.29999999999998" width="33.0" height="3.7" fill="#b4e8e4" opacity=".75"/><rect x="445" y="253.29999999999998" width="56.3" height="3.7" fill="#bce3fa" opacity=".75"/><rect x="501.3" y="253.29999999999998" width="34.7" height="3.7" fill="#f4cde0" opacity=".75"/><rect x="412" y="263.3" width="35.5" height="3.7" fill="#b4e8e4" opacity=".75"/><rect x="447.5" y="263.3" width="68.1" height="3.7" fill="#bce3fa" opacity=".75"/><rect x="515.6" y="263.3" width="20.4" height="3.7" fill="#f4cde0" opacity=".75"/><path d="M412.0 253.3V267.0M416.3 253.3V267.0M420.6 253.3V267.0M424.8 253.3V267.0M429.1 253.3V267.0M433.4 253.3V267.0" stroke="#2f7274" stroke-width=".8" fill="none"/><path d="M437.7 253.3V267.0M441.9 253.3V267.0M446.2 253.3V267.0M450.5 253.3V267.0M454.8 253.3V267.0M459.0 253.3V267.0M463.3 253.3V267.0M467.6 253.3V267.0M471.9 253.3V267.0M476.1 253.3V267.0M480.4 253.3V267.0M484.7 253.3V267.0M489.0 253.3V267.0M493.2 253.3V267.0M497.5 253.3V267.0M501.8 253.3V267.0M506.1 253.3V267.0" stroke="#376a9c" stroke-width=".8" fill="none"/><path d="M510.3 253.3V267.0M514.6 253.3V267.0M518.9 253.3V267.0M523.2 253.3V267.0M527.4 253.3V267.0M531.7 253.3V267.0M536.0 253.3V267.0" stroke="#8e4474" stroke-width=".8" fill="none"/><line x1="412" y1="253.29999999999998" x2="445" y2="253.29999999999998" stroke="#3f9a92" stroke-width=".9"/><line x1="445" y1="253.29999999999998" x2="501.3" y2="253.29999999999998" stroke="#3f7db8" stroke-width=".9"/><line x1="501.3" y1="253.29999999999998" x2="536" y2="253.29999999999998" stroke="#dc3f7c" stroke-width=".9"/><line x1="412" y1="267.0" x2="447.5" y2="267.0" stroke="#3f9a92" stroke-width=".9"/><line x1="447.5" y1="267.0" x2="515.6" y2="267.0" stroke="#3f7db8" stroke-width=".9"/><line x1="515.6" y1="267.0" x2="536" y2="267.0" stroke="#dc3f7c" stroke-width=".9"/>
<rect x="412" y="280.8" width="22.0" height="6.499999999999999" fill="#b4e8e4" opacity=".75"/><rect x="434" y="280.8" width="74.0" height="6.499999999999999" fill="#bce3fa" opacity=".75"/><rect x="508" y="280.8" width="28.0" height="6.499999999999999" fill="#f4cde0" opacity=".75"/><rect x="412" y="277.2" width="33.0" height="3.7" fill="#b4e8e4" opacity=".75"/><rect x="445" y="277.2" width="56.3" height="3.7" fill="#bce3fa" opacity=".75"/><rect x="501.3" y="277.2" width="34.7" height="3.7" fill="#f4cde0" opacity=".75"/><rect x="412" y="287.2" width="35.5" height="3.7" fill="#b4e8e4" opacity=".75"/><rect x="447.5" y="287.2" width="68.1" height="3.7" fill="#bce3fa" opacity=".75"/><rect x="515.6" y="287.2" width="20.4" height="3.7" fill="#f4cde0" opacity=".75"/><path d="M412.0 277.2V290.9M416.3 277.2V290.9M420.6 277.2V290.9M424.8 277.2V290.9M429.1 277.2V290.9M433.4 277.2V290.9" stroke="#2f7274" stroke-width=".8" fill="none"/><path d="M437.7 277.2V290.9M441.9 277.2V290.9M446.2 277.2V290.9M450.5 277.2V290.9M454.8 277.2V290.9M459.0 277.2V290.9M463.3 277.2V290.9M467.6 277.2V290.9M471.9 277.2V290.9M476.1 277.2V290.9M480.4 277.2V290.9M484.7 277.2V290.9M489.0 277.2V290.9M493.2 277.2V290.9M497.5 277.2V290.9M501.8 277.2V290.9M506.1 277.2V290.9" stroke="#376a9c" stroke-width=".8" fill="none"/><path d="M510.3 277.2V290.9M514.6 277.2V290.9M518.9 277.2V290.9M523.2 277.2V290.9M527.4 277.2V290.9M531.7 277.2V290.9M536.0 277.2V290.9" stroke="#8e4474" stroke-width=".8" fill="none"/><line x1="412" y1="277.2" x2="445" y2="277.2" stroke="#3f9a92" stroke-width=".9"/><line x1="445" y1="277.2" x2="501.3" y2="277.2" stroke="#3f7db8" stroke-width=".9"/><line x1="501.3" y1="277.2" x2="536" y2="277.2" stroke="#dc3f7c" stroke-width=".9"/><line x1="412" y1="290.9" x2="447.5" y2="290.9" stroke="#3f9a92" stroke-width=".9"/><line x1="447.5" y1="290.9" x2="515.6" y2="290.9" stroke="#3f7db8" stroke-width=".9"/><line x1="515.6" y1="290.9" x2="536" y2="290.9" stroke="#dc3f7c" stroke-width=".9"/>
</g>
<g clip-path="url(#sqc)"><g filter="url(#b1)"><rect x="106.5" y="384" width="160.5" height="99.5" fill="#0a0a1d"/><circle cx="150" cy="400" r="22" fill="#1c1c5c" opacity=".22" filter="url(#b3)"/><circle cx="215" cy="395" r="20" fill="#1c1c5c" opacity=".22" filter="url(#b3)"/><circle cx="125" cy="445" r="16" fill="#1c1c5c" opacity=".22" filter="url(#b3)"/><circle cx="240" cy="430" r="18" fill="#1c1c5c" opacity=".22" filter="url(#b3)"/><circle cx="185" cy="430" r="20" fill="#1c1c5c" opacity=".22" filter="url(#b3)"/><path d="M110.1 410.9h3M143.6 398.5h3M214.9 469.9h3" stroke="#dfe6ee" stroke-width="1.15" opacity="0.19" fill="none"/><path d="M110.1 413.2h3M110.1 419.7h3M110.1 421.6h3M131.1 416.7h3M244.2 476.1h3" stroke="#7f9bd8" stroke-width="1.15" opacity="0.19" fill="none"/><path d="M110.1 415.5h3M110.1 466.5h3M139.4 473.7h3M143.6 413.0h3M214.9 472.2h3M244.2 455.7h3M261.0 462.7h3" stroke="#c9d2e0" stroke-width="1.15" opacity="0.54" fill="none"/><path d="M110.1 417.6h3M110.1 427.9h3M110.1 434.2h3M110.1 442.6h3M110.1 451.2h3M114.3 466.0h3M118.5 459.3h3M126.9 452.3h3M126.9 458.8h3M126.9 476.0h3M139.4 424.1h3M139.4 444.5h3M177.2 409.0h3M223.3 418.1h3M261.0 415.2h3" stroke="#c9d2e0" stroke-width="1.15" opacity="0.66" fill="none"/><path d="M110.1 423.9h3M131.1 475.1h3M214.9 414.3h3M214.9 474.5h3M261.0 405.1h3" stroke="#dfe6ee" stroke-width="1.15" opacity="0.31" fill="none"/><path d="M110.1 425.8h3M131.1 435.4h3M261.0 419.4h3M261.0 436.0h3" stroke="#aab6cf" stroke-width="1.15" opacity="0.43" fill="none"/><path d="M110.1 430.0h3M143.6 473.9h3M244.2 445.4h3" stroke="#cfd39a" stroke-width="1.15" opacity="0.19" fill="none"/><path d="M110.1 432.3h3M131.1 427.0h3M143.6 446.4h3M261.0 402.8h3" stroke="#e3cf6a" stroke-width="1.15" opacity="0.43" fill="none"/><path d="M110.1 436.1h3M110.1 455.8h3M114.3 398.2h3M131.1 443.8h3M131.1 448.0h3M131.1 477.0h3M139.4 440.5h3M164.6 432.3h3M177.2 436.1h3M223.3 439.1h3M240.0 430.2h3M244.2 451.5h3M248.4 428.3h3M248.4 460.2h3M261.0 476.8h3" stroke="#aab6cf" stroke-width="1.15" opacity="0.66" fill="none"/><path d="M110.1 438.2h3M139.4 458.8h3M143.6 467.2h3M240.0 470.3h3M261.0 441.9h3" stroke="#8fd0a8" stroke-width="1.15" opacity="0.66" fill="none"/><path d="M110.1 440.3h3M139.4 467.4h3M261.0 428.0h3" stroke="#6ac7d2" stroke-width="1.15" opacity="0.31" fill="none"/><path d="M110.1 444.7h3M110.1 476.8h3M131.1 408.5h3M131.1 449.9h3M139.4 442.4h3M143.6 434.0h3M214.9 422.3h3M214.9 467.8h3M244.2 430.5h3M244.2 447.5h3" stroke="#5d7fd6" stroke-width="1.15" opacity="0.54" fill="none"/><path d="M110.1 446.8h3M110.1 460.0h3M139.4 430.2h3M143.6 444.3h3M214.9 454.6h3M261.0 413.1h3" stroke="#c9d2e0" stroke-width="1.15" opacity="0.19" fill="none"/><path d="M110.1 449.1h3M131.1 394.0h3M131.1 466.5h3M143.6 400.8h3M143.6 408.6h3M214.9 418.5h3M214.9 430.9h3M214.9 452.3h3" stroke="#5d7fd6" stroke-width="1.15" opacity="0.31" fill="none"/><path d="M110.1 453.5h3M131.1 439.4h3M139.4 428.1h3M244.2 439.1h3M244.2 449.6h3" stroke="#5d7fd6" stroke-width="1.15" opacity="0.43" fill="none"/><path d="M110.1 457.9h3M131.1 398.6h3M131.1 406.6h3M214.9 435.1h3M261.0 417.5h3" stroke="#c9d2e0" stroke-width="1.15" opacity="0.43" fill="none"/><path d="M110.1 462.3h3" stroke="#7f9bd8" stroke-width="1.15" opacity="0.54" fill="none"/><path d="M110.1 464.4h3M131.1 414.6h3M143.6 461.1h3M214.9 428.8h3M261.0 466.7h3M261.0 468.6h3" stroke="#5d7fd6" stroke-width="1.15" opacity="0.19" fill="none"/><path d="M110.1 468.4h3M131.1 423.0h3M139.4 465.3h3M139.4 471.4h3M143.6 442.0h3M214.9 447.9h3M244.2 453.8h3M261.0 411.2h3" stroke="#58b6c9" stroke-width="1.15" opacity="0.31" fill="none"/><path d="M110.1 470.7h3" stroke="#4f68c0" stroke-width="1.15" opacity="0.54" fill="none"/><path d="M110.1 472.6h3M118.5 447.3h3M193.9 413.5h3M193.9 440.0h3M240.0 434.6h3M240.0 453.3h3M244.2 469.8h3" stroke="#4f68c0" stroke-width="1.15" opacity="0.66" fill="none"/><path d="M110.1 474.7h3M223.3 478.6h3M261.0 458.7h3" stroke="#d99a55" stroke-width="1.15" opacity="0.66" fill="none"/><path d="M110.1 478.7h3M131.1 446.1h3M139.4 446.4h3M143.6 454.6h3M261.0 421.5h3M261.0 446.3h3" stroke="#cfd39a" stroke-width="1.15" opacity="0.31" fill="none"/><path d="M114.3 396.1h3M114.3 419.4h3M177.2 469.9h3" stroke="#7f9bd8" stroke-width="1.15" opacity="0.38" fill="none"/><path d="M114.3 400.5h3M118.5 411.8h3M177.2 439.9h3" stroke="#7f9bd8" stroke-width="1.15" opacity="0.52" fill="none"/><path d="M114.3 407.0h3M118.5 470.0h3M126.9 420.2h3M143.6 435.9h3M214.9 456.9h3M240.0 404.6h3M240.0 448.7h3M248.4 400.0h3M252.6 428.6h3M252.6 449.0h3M261.0 472.6h3M261.0 474.5h3" stroke="#dfe6ee" stroke-width="1.15" opacity="0.66" fill="none"/><path d="M114.3 411.4h3M114.3 472.7h3M177.2 411.1h3M193.9 461.2h3M248.4 477.2h3" stroke="#4f68c0" stroke-width="1.15" opacity="0.24" fill="none"/><path d="M114.3 413.5h3M118.5 475.9h3M177.2 433.8h3M240.0 462.1h3M248.4 468.4h3" stroke="#dfe6ee" stroke-width="1.15" opacity="0.38" fill="none"/><path d="M114.3 417.5h3M114.3 421.7h3M193.9 421.7h3M240.0 408.6h3M240.0 410.7h3" stroke="#5d7fd6" stroke-width="1.15" opacity="0.81" fill="none"/><path d="M114.3 423.6h3M114.3 438.1h3M114.3 455.5h3M164.6 424.1h3M177.2 478.3h3M223.3 435.3h3" stroke="#e3cf6a" stroke-width="1.15" opacity="0.81" fill="none"/><path d="M114.3 425.7h3M164.6 457.7h3M177.2 397.2h3M223.3 425.0h3M240.0 417.2h3M240.0 455.6h3M248.4 406.5h3M252.6 479.0h3" stroke="#58b6c9" stroke-width="1.15" opacity="0.52" fill="none"/><path d="M114.3 428.0h3M164.6 468.2h3M177.2 389.0h3M177.2 474.1h3M193.9 423.8h3M193.9 467.3h3M252.6 474.6h3M252.6 476.9h3" stroke="#c9d2e0" stroke-width="1.15" opacity="0.24" fill="none"/><path d="M114.3 432.2h3M118.5 433.2h3M118.5 451.3h3M126.9 448.3h3M164.6 472.6h3M177.2 453.1h3M248.4 426.0h3M248.4 441.1h3" stroke="#58b6c9" stroke-width="1.15" opacity="0.24" fill="none"/><path d="M114.3 434.1h3M114.3 457.6h3M118.5 465.8h3M164.6 466.3h3M177.2 429.8h3M223.3 465.8h3M248.4 449.9h3" stroke="#5d7fd6" stroke-width="1.15" opacity="0.52" fill="none"/><path d="M114.3 440.2h3M118.5 435.1h3M164.6 430.2h3M252.6 461.6h3" stroke="#8f8fe0" stroke-width="1.15" opacity="0.24" fill="none"/><path d="M114.3 442.5h3M223.3 449.2h3M240.0 398.7h3M248.4 456.2h3" stroke="#c9d2e0" stroke-width="1.15" opacity="0.52" fill="none"/><path d="M114.3 444.8h3M193.9 417.3h3M223.3 463.5h3M240.0 464.2h3M248.4 451.8h3" stroke="#cfd39a" stroke-width="1.15" opacity="0.52" fill="none"/><path d="M114.3 446.7h3M126.9 472.0h3M177.2 463.4h3" stroke="#ffffff" stroke-width="1.15" opacity="0.52" fill="none"/><path d="M114.3 449.0h3M248.4 439.0h3" stroke="#e3cf6a" stroke-width="1.15" opacity="0.38" fill="none"/><path d="M114.3 451.1h3M118.5 461.4h3M177.2 395.3h3M193.9 437.9h3M248.4 408.6h3M252.6 437.2h3" stroke="#6ac7d2" stroke-width="1.15" opacity="0.38" fill="none"/><path d="M114.3 453.4h3M118.5 401.3h3M164.6 443.2h3M240.0 390.7h3M240.0 432.3h3M248.4 402.3h3M248.4 443.4h3" stroke="#dfe6ee" stroke-width="1.15" opacity="0.24" fill="none"/><path d="M114.3 459.5h3M118.5 449.4h3M126.9 456.7h3M193.9 430.1h3M244.2 464.1h3M252.6 430.5h3" stroke="#6ac7d2" stroke-width="1.15" opacity="0.66" fill="none"/><path d="M114.3 461.4h3M118.5 441.6h3M164.6 474.5h3M193.9 435.8h3M193.9 444.2h3M223.3 429.2h3M240.0 436.7h3M252.6 435.1h3" stroke="#aab6cf" stroke-width="1.15" opacity="0.81" fill="none"/><path d="M114.3 463.7h3M118.5 455.5h3M164.6 449.7h3M193.9 463.5h3M223.3 455.3h3M240.0 474.3h3" stroke="#aab6cf" stroke-width="1.15" opacity="0.52" fill="none"/><path d="M114.3 468.3h3M118.5 425.2h3M240.0 459.8h3M252.6 424.6h3" stroke="#aab6cf" stroke-width="1.15" opacity="0.38" fill="none"/><path d="M114.3 470.4h3M126.9 441.6h3M164.6 445.5h3M177.2 404.8h3M223.3 420.4h3M223.3 476.3h3M240.0 478.3h3M248.4 417.4h3" stroke="#5d7fd6" stroke-width="1.15" opacity="0.24" fill="none"/><path d="M114.3 475.0h3M118.5 413.9h3M126.9 430.5h3M126.9 467.6h3M164.6 447.8h3M193.9 433.9h3M240.0 457.5h3M248.4 464.2h3" stroke="#aab6cf" stroke-width="1.15" opacity="0.24" fill="none"/><path d="M114.3 476.9h3M193.9 446.1h3M193.9 478.2h3M248.4 397.9h3" stroke="#8fd0a8" stroke-width="1.15" opacity="0.38" fill="none"/><path d="M118.5 399.0h3M177.2 423.3h3M177.2 431.7h3M240.0 406.5h3" stroke="#5d7fd6" stroke-width="1.15" opacity="0.38" fill="none"/><path d="M118.5 403.6h3M118.5 418.5h3M126.9 435.1h3M177.2 471.8h3M193.9 455.3h3" stroke="#ffffff" stroke-width="1.15" opacity="0.38" fill="none"/><path d="M118.5 409.5h3M248.4 432.7h3M252.6 420.6h3" stroke="#e3cf6a" stroke-width="1.15" opacity="0.52" fill="none"/><path d="M118.5 416.2h3M240.0 396.8h3M240.0 476.2h3" stroke="#8fd0a8" stroke-width="1.15" opacity="0.81" fill="none"/><path d="M118.5 420.8h3M177.2 446.2h3" stroke="#ffffff" stroke-width="1.15" opacity="0.24" fill="none"/><path d="M118.5 427.1h3M118.5 431.3h3M126.9 463.4h3M126.9 474.1h3M126.9 477.9h3M164.6 409.8h3M164.6 419.9h3M193.9 459.1h3M248.4 419.7h3M248.4 437.1h3M252.6 472.3h3" stroke="#c9d2e0" stroke-width="1.15" opacity="0.81" fill="none"/><path d="M118.5 429.0h3M118.5 437.0h3M126.9 450.4h3M164.6 453.7h3M164.6 476.8h3M223.3 447.1h3M248.4 421.6h3M252.6 459.3h3" stroke="#ffffff" stroke-width="1.15" opacity="0.81" fill="none"/><path d="M118.5 439.3h3M131.1 456.0h3M164.6 438.8h3M177.2 459.2h3M193.9 419.4h3M214.9 409.7h3M214.9 443.3h3M223.3 445.2h3M240.0 392.8h3M240.0 421.8h3M240.0 468.4h3" stroke="#58b6c9" stroke-width="1.15" opacity="0.66" fill="none"/><path d="M118.5 443.5h3M118.5 472.1h3M126.9 465.3h3M177.2 406.7h3M223.3 471.9h3" stroke="#58b6c9" stroke-width="1.15" opacity="0.81" fill="none"/><path d="M118.5 463.7h3M177.2 402.9h3M248.4 466.5h3M248.4 470.7h3M252.6 455.1h3" stroke="#ffffff" stroke-width="1.15" opacity="0.66" fill="none"/><path d="M118.5 467.7h3M193.9 432.0h3M223.3 441.0h3M248.4 423.7h3" stroke="#dfe6ee" stroke-width="1.15" opacity="0.52" fill="none"/><path d="M118.5 474.0h3M126.9 422.1h3M126.9 439.7h3M177.2 391.1h3M252.6 439.1h3" stroke="#6ac7d2" stroke-width="1.15" opacity="0.24" fill="none"/><path d="M118.5 478.0h3M252.6 447.1h3" stroke="#d99a55" stroke-width="1.15" opacity="0.52" fill="none"/><path d="M122.7 416.5h3M198.1 446.1h3M219.1 409.5h3M231.7 422.9h3M231.7 442.4h3M231.7 454.6h3M231.7 476.9h3" stroke="#aab6cf" stroke-width="1.15" opacity="0.39" fill="none"/><path d="M122.7 418.4h3M198.1 400.3h3M231.7 435.9h3" stroke="#cfd39a" stroke-width="1.15" opacity="0.49" fill="none"/><path d="M122.7 420.3h3M122.7 477.6h3M152.0 456.4h3M181.4 436.0h3M219.1 428.0h3" stroke="#dfe6ee" stroke-width="1.15" opacity="0.17" fill="none"/><path d="M122.7 422.4h3M198.1 398.2h3M198.1 443.8h3M235.8 415.3h3" stroke="#6ac7d2" stroke-width="1.15" opacity="0.17" fill="none"/><path d="M122.7 426.6h3M122.7 450.7h3" stroke="#8f8fe0" stroke-width="1.15" opacity="0.49" fill="none"/><path d="M122.7 428.7h3M122.7 441.7h3M168.8 404.9h3M173.0 440.0h3M181.4 406.4h3M181.4 440.2h3M198.1 404.1h3" stroke="#dfe6ee" stroke-width="1.15" opacity="0.59" fill="none"/><path d="M122.7 431.0h3M152.0 468.8h3M181.4 431.6h3M198.1 396.1h3M198.1 439.2h3M219.1 411.8h3M231.7 433.8h3M231.7 448.5h3M231.7 478.8h3M235.8 448.3h3" stroke="#c9d2e0" stroke-width="1.15" opacity="0.28" fill="none"/><path d="M122.7 433.1h3M122.7 435.4h3M219.1 405.5h3" stroke="#e3cf6a" stroke-width="1.15" opacity="0.39" fill="none"/><path d="M122.7 437.5h3M152.0 438.3h3M231.7 473.1h3M235.8 432.1h3" stroke="#cfd39a" stroke-width="1.15" opacity="0.39" fill="none"/><path d="M122.7 446.3h3" stroke="#8fd0a8" stroke-width="1.15" opacity="0.17" fill="none"/><path d="M122.7 453.0h3M231.7 425.0h3M235.8 404.8h3M235.8 442.4h3" stroke="#e3cf6a" stroke-width="1.15" opacity="0.28" fill="none"/><path d="M122.7 455.1h3M198.1 431.2h3M198.1 441.5h3M198.1 473.2h3M231.7 468.5h3M235.8 454.4h3" stroke="#aab6cf" stroke-width="1.15" opacity="0.49" fill="none"/><path d="M122.7 459.1h3M122.7 467.7h3M198.1 463.1h3M219.1 453.0h3M231.7 414.7h3" stroke="#58b6c9" stroke-width="1.15" opacity="0.49" fill="none"/><path d="M122.7 461.0h3M152.0 442.3h3M152.0 448.4h3M168.8 419.6h3M198.1 420.7h3" stroke="#4f68c0" stroke-width="1.15" opacity="0.59" fill="none"/><path d="M122.7 465.6h3M152.0 472.8h3M181.4 447.1h3M198.1 412.1h3M231.7 460.5h3M235.8 417.2h3M235.8 456.3h3" stroke="#58b6c9" stroke-width="1.15" opacity="0.17" fill="none"/><path d="M122.7 469.6h3M147.8 428.1h3M152.0 475.1h3M181.4 414.8h3M198.1 424.7h3M198.1 471.1h3M235.8 452.5h3M235.8 477.7h3" stroke="#5d7fd6" stroke-width="1.15" opacity="0.59" fill="none"/><path d="M122.7 471.7h3M152.0 436.0h3M219.1 413.7h3M219.1 442.7h3M231.7 404.2h3M231.7 431.5h3" stroke="#58b6c9" stroke-width="1.15" opacity="0.28" fill="none"/><path d="M122.7 473.8h3M181.4 463.7h3M231.7 456.5h3M235.8 450.6h3M235.8 473.7h3" stroke="#5d7fd6" stroke-width="1.15" opacity="0.49" fill="none"/><path d="M122.7 475.7h3M181.4 442.5h3" stroke="#ffffff" stroke-width="1.15" opacity="0.28" fill="none"/><path d="M126.9 426.3h3M164.6 459.8h3M193.9 476.1h3M223.3 459.5h3M240.0 466.1h3" stroke="#4f68c0" stroke-width="1.15" opacity="0.52" fill="none"/><path d="M126.9 437.4h3" stroke="#7f9bd8" stroke-width="1.15" opacity="0.24" fill="none"/><path d="M126.9 446.0h3M126.9 461.1h3M177.2 465.7h3M223.3 461.4h3M248.4 445.5h3M252.6 444.8h3M252.6 457.0h3M252.6 466.0h3" stroke="#dfe6ee" stroke-width="1.15" opacity="0.81" fill="none"/><path d="M126.9 454.4h3M177.2 461.1h3M177.2 476.4h3M240.0 440.9h3M240.0 446.6h3" stroke="#58b6c9" stroke-width="1.15" opacity="0.38" fill="none"/><path d="M126.9 469.7h3M164.6 440.9h3M193.9 465.4h3M223.3 470.0h3M248.4 474.9h3M252.6 450.9h3" stroke="#c9d2e0" stroke-width="1.15" opacity="0.38" fill="none"/><path d="M131.1 391.7h3M261.0 448.4h3" stroke="#c9d2e0" stroke-width="1.15" opacity="0.31" fill="none"/><path d="M131.1 400.5h3M131.1 402.4h3M131.1 404.5h3M143.6 475.8h3M261.0 439.8h3M261.0 470.5h3M261.0 478.7h3" stroke="#aab6cf" stroke-width="1.15" opacity="0.54" fill="none"/><path d="M131.1 431.4h3M214.9 437.2h3M252.6 416.6h3" stroke="#8f8fe0" stroke-width="1.15" opacity="0.66" fill="none"/><path d="M131.1 433.3h3M131.1 464.4h3M139.4 448.5h3M143.6 458.8h3M214.9 416.4h3" stroke="#dfe6ee" stroke-width="1.15" opacity="0.54" fill="none"/><path d="M131.1 437.5h3" stroke="#8f8fe0" stroke-width="1.15" opacity="0.31" fill="none"/><path d="M131.1 441.5h3M143.6 419.5h3M214.9 441.4h3M214.9 478.7h3" stroke="#58b6c9" stroke-width="1.15" opacity="0.54" fill="none"/><path d="M131.1 452.0h3M214.9 432.8h3M261.0 432.0h3" stroke="#e3cf6a" stroke-width="1.15" opacity="0.31" fill="none"/><path d="M131.1 453.9h3M139.4 461.1h3M143.6 417.2h3" stroke="#8f8fe0" stroke-width="1.15" opacity="0.19" fill="none"/><path d="M131.1 462.3h3M261.0 454.5h3" stroke="#ffffff" stroke-width="1.15" opacity="0.31" fill="none"/><path d="M131.1 468.8h3M139.4 454.8h3M143.6 406.5h3M143.6 410.9h3M143.6 463.0h3M261.0 398.8h3" stroke="#e3cf6a" stroke-width="1.15" opacity="0.19" fill="none"/><path d="M131.1 473.0h3M139.4 432.1h3M261.0 450.3h3" stroke="#8fd0a8" stroke-width="1.15" opacity="0.54" fill="none"/><path d="M135.2 408.8h3M135.2 462.3h3M189.7 420.4h3M189.7 452.3h3" stroke="#c9d2e0" stroke-width="1.15" opacity="0.25" fill="none"/><path d="M135.2 410.7h3M210.7 463.5h3" stroke="#c9d2e0" stroke-width="1.15" opacity="0.44" fill="none"/><path d="M135.2 412.6h3M156.2 412.2h3" stroke="#dfe6ee" stroke-width="1.15" opacity="0.16" fill="none"/><path d="M135.2 414.5h3M147.8 443.2h3M147.8 447.4h3M156.2 442.2h3M185.5 405.5h3M256.8 421.1h3" stroke="#dfe6ee" stroke-width="1.15" opacity="0.34" fill="none"/><path d="M135.2 416.4h3M135.2 464.4h3M210.7 391.7h3" stroke="#ffffff" stroke-width="1.15" opacity="0.44" fill="none"/><path d="M135.2 420.6h3" stroke="#ffffff" stroke-width="1.15" opacity="0.53" fill="none"/><path d="M135.2 422.5h3M135.2 430.7h3" stroke="#6ac7d2" stroke-width="1.15" opacity="0.53" fill="none"/><path d="M135.2 424.4h3M135.2 474.3h3" stroke="#58b6c9" stroke-width="1.15" opacity="0.44" fill="none"/><path d="M135.2 432.6h3M135.2 436.4h3M156.2 469.7h3" stroke="#d99a55" stroke-width="1.15" opacity="0.34" fill="none"/><path d="M135.2 434.5h3M135.2 456.2h3M156.2 444.5h3M185.5 450.7h3M185.5 459.3h3M185.5 473.6h3" stroke="#aab6cf" stroke-width="1.15" opacity="0.44" fill="none"/><path d="M135.2 438.3h3M135.2 470.3h3M185.5 436.2h3M185.5 442.1h3M210.7 442.1h3M210.7 459.1h3" stroke="#5d7fd6" stroke-width="1.15" opacity="0.44" fill="none"/><path d="M135.2 440.4h3M210.7 446.5h3M210.7 471.9h3" stroke="#e3cf6a" stroke-width="1.15" opacity="0.16" fill="none"/><path d="M135.2 442.5h3M156.2 403.8h3M185.5 403.4h3M189.7 454.2h3M210.7 399.5h3" stroke="#ffffff" stroke-width="1.15" opacity="0.16" fill="none"/><path d="M135.2 444.4h3M147.8 421.6h3M147.8 476.0h3M160.4 423.2h3M185.5 438.3h3M210.7 401.6h3" stroke="#e3cf6a" stroke-width="1.15" opacity="0.34" fill="none"/><path d="M135.2 446.3h3M147.8 459.2h3M156.2 455.0h3M160.4 457.4h3M189.7 394.4h3M210.7 437.5h3" stroke="#6ac7d2" stroke-width="1.15" opacity="0.34" fill="none"/><path d="M135.2 448.4h3" stroke="#aab6cf" stroke-width="1.15" opacity="0.53" fill="none"/><path d="M135.2 452.4h3M156.2 405.9h3M156.2 410.3h3M185.5 401.5h3" stroke="#dfe6ee" stroke-width="1.15" opacity="0.53" fill="none"/><path d="M135.2 458.1h3" stroke="#cfd39a" stroke-width="1.15" opacity="0.44" fill="none"/><path d="M135.2 466.3h3M147.8 471.8h3M185.5 471.7h3" stroke="#4f68c0" stroke-width="1.15" opacity="0.34" fill="none"/><path d="M135.2 468.4h3M210.7 478.2h3" stroke="#c9d2e0" stroke-width="1.15" opacity="0.16" fill="none"/><path d="M135.2 472.2h3M189.7 416.0h3M189.7 431.5h3" stroke="#e3cf6a" stroke-width="1.15" opacity="0.44" fill="none"/><path d="M135.2 476.2h3M156.2 414.3h3M156.2 467.6h3M185.5 452.8h3M210.7 416.3h3" stroke="#aab6cf" stroke-width="1.15" opacity="0.25" fill="none"/><path d="M135.2 478.3h3M156.2 450.8h3" stroke="#8fd0a8" stroke-width="1.15" opacity="0.25" fill="none"/><path d="M139.4 418.0h3" stroke="#d99a55" stroke-width="1.15" opacity="0.31" fill="none"/><path d="M139.4 422.2h3M214.9 424.6h3M244.2 435.1h3" stroke="#8fd0a8" stroke-width="1.15" opacity="0.19" fill="none"/><path d="M139.4 426.2h3M143.6 440.1h3M164.6 436.5h3M164.6 455.6h3M177.2 444.1h3M177.2 455.2h3M240.0 423.7h3M240.0 439.0h3M240.0 472.2h3" stroke="#5d7fd6" stroke-width="1.15" opacity="0.66" fill="none"/><path d="M139.4 436.3h3M139.4 475.6h3M214.9 461.5h3M244.2 462.2h3" stroke="#aab6cf" stroke-width="1.15" opacity="0.31" fill="none"/><path d="M139.4 450.8h3M143.6 396.2h3M143.6 430.0h3M261.0 394.4h3" stroke="#cfd39a" stroke-width="1.15" opacity="0.54" fill="none"/><path d="M139.4 456.9h3M143.6 477.7h3M261.0 464.8h3" stroke="#8fd0a8" stroke-width="1.15" opacity="0.31" fill="none"/><path d="M139.4 463.2h3M214.9 439.5h3M244.2 437.0h3" stroke="#7f9bd8" stroke-width="1.15" opacity="0.43" fill="none"/><path d="M139.4 469.3h3M143.6 394.3h3M244.2 457.6h3" stroke="#7f9bd8" stroke-width="1.15" opacity="0.31" fill="none"/><path d="M143.6 402.7h3M214.9 450.0h3" stroke="#aab6cf" stroke-width="1.15" opacity="0.19" fill="none"/><path d="M143.6 421.6h3M244.2 443.3h3" stroke="#d99a55" stroke-width="1.15" opacity="0.19" fill="none"/><path d="M143.6 425.8h3M143.6 465.3h3" stroke="#dfe6ee" stroke-width="1.15" opacity="0.43" fill="none"/><path d="M143.6 428.1h3M214.9 476.8h3" stroke="#4f68c0" stroke-width="1.15" opacity="0.31" fill="none"/><path d="M143.6 437.8h3M143.6 452.3h3M261.0 444.2h3" stroke="#4f68c0" stroke-width="1.15" opacity="0.19" fill="none"/><path d="M143.6 456.9h3" stroke="#e3cf6a" stroke-width="1.15" opacity="0.54" fill="none"/><path d="M143.6 469.5h3" stroke="#d99a55" stroke-width="1.15" opacity="0.43" fill="none"/><path d="M143.6 471.8h3M244.2 467.9h3M261.0 437.9h3" stroke="#4f68c0" stroke-width="1.15" opacity="0.43" fill="none"/><path d="M147.8 390.5h3M160.4 406.8h3" stroke="#d99a55" stroke-width="1.15" opacity="0.47" fill="none"/><path d="M147.8 394.7h3M147.8 449.5h3M147.8 463.4h3M147.8 469.9h3M160.4 442.3h3M168.8 417.5h3M168.8 450.5h3M173.0 464.0h3M173.0 476.6h3" stroke="#dfe6ee" stroke-width="1.15" opacity="0.21" fill="none"/><path d="M147.8 397.0h3M147.8 434.8h3M147.8 465.7h3M160.4 431.4h3M160.4 446.7h3M160.4 478.4h3M168.8 459.1h3M168.8 472.3h3" stroke="#5d7fd6" stroke-width="1.15" opacity="0.72" fill="none"/><path d="M147.8 398.9h3M147.8 417.6h3M147.8 468.0h3M147.8 478.1h3M181.4 429.7h3M231.7 466.6h3" stroke="#ffffff" stroke-width="1.15" opacity="0.59" fill="none"/><path d="M147.8 403.1h3M160.4 427.4h3M256.8 470.9h3" stroke="#c9d2e0" stroke-width="1.15" opacity="0.72" fill="none"/><path d="M147.8 407.3h3M147.8 461.3h3M168.8 409.1h3M173.0 458.1h3" stroke="#aab6cf" stroke-width="1.15" opacity="0.47" fill="none"/><path d="M147.8 409.2h3M256.8 433.3h3" stroke="#6ac7d2" stroke-width="1.15" opacity="0.21" fill="none"/><path d="M147.8 411.3h3M156.2 435.9h3M185.5 469.6h3M189.7 424.8h3M210.7 435.2h3M210.7 453.0h3" stroke="#58b6c9" stroke-width="1.15" opacity="0.34" fill="none"/><path d="M147.8 419.5h3M156.2 416.4h3M185.5 409.3h3M189.7 429.2h3" stroke="#ffffff" stroke-width="1.15" opacity="0.34" fill="none"/><path d="M147.8 423.7h3M160.4 440.2h3M160.4 470.4h3M173.0 453.9h3M173.0 468.2h3M256.8 427.2h3" stroke="#58b6c9" stroke-width="1.15" opacity="0.47" fill="none"/><path d="M147.8 425.8h3M168.8 467.7h3M256.8 460.2h3" stroke="#58b6c9" stroke-width="1.15" opacity="0.21" fill="none"/><path d="M147.8 430.4h3M160.4 472.5h3" stroke="#c9d2e0" stroke-width="1.15" opacity="0.47" fill="none"/><path d="M147.8 432.7h3M256.8 469.0h3" stroke="#4f68c0" stroke-width="1.15" opacity="0.47" fill="none"/><path d="M147.8 436.7h3M152.0 452.6h3M160.4 408.9h3M168.8 454.7h3M198.1 450.7h3M219.1 465.4h3M231.7 462.8h3" stroke="#c9d2e0" stroke-width="1.15" opacity="0.59" fill="none"/><path d="M147.8 438.6h3M160.4 468.3h3M168.8 413.5h3M173.0 461.9h3M256.8 453.9h3" stroke="#dfe6ee" stroke-width="1.15" opacity="0.47" fill="none"/><path d="M147.8 440.9h3M160.4 476.5h3" stroke="#7f9bd8" stroke-width="1.15" opacity="0.47" fill="none"/><path d="M147.8 445.1h3M160.4 415.0h3M160.4 459.5h3M181.4 465.6h3M219.1 446.5h3" stroke="#d99a55" stroke-width="1.15" opacity="0.59" fill="none"/><path d="M147.8 451.4h3M173.0 423.2h3M256.8 443.8h3" stroke="#5d7fd6" stroke-width="1.15" opacity="0.47" fill="none"/><path d="M147.8 453.3h3M185.5 417.7h3M185.5 422.1h3M185.5 475.7h3M189.7 400.3h3M256.8 447.6h3" stroke="#8f8fe0" stroke-width="1.15" opacity="0.34" fill="none"/><path d="M147.8 455.4h3M189.7 418.1h3M189.7 445.4h3M189.7 460.5h3" stroke="#7f9bd8" stroke-width="1.15" opacity="0.34" fill="none"/><path d="M147.8 457.3h3M168.8 430.5h3M185.5 413.3h3M185.5 426.3h3M185.5 457.0h3" stroke="#aab6cf" stroke-width="1.15" opacity="0.34" fill="none"/><path d="M147.8 473.7h3M168.8 434.3h3M256.8 412.9h3M256.8 419.2h3M256.8 441.7h3" stroke="#c9d2e0" stroke-width="1.15" opacity="0.21" fill="none"/><path d="M152.0 414.4h3M219.1 401.3h3M235.8 471.4h3" stroke="#dfe6ee" stroke-width="1.15" opacity="0.49" fill="none"/><path d="M152.0 416.7h3M181.4 477.8h3M219.1 457.0h3M231.7 464.7h3" stroke="#4f68c0" stroke-width="1.15" opacity="0.49" fill="none"/><path d="M152.0 423.0h3M152.0 424.9h3M152.0 466.7h3M181.4 433.9h3M181.4 473.8h3M198.1 422.6h3M198.1 457.2h3M198.1 477.2h3M231.7 470.8h3M231.7 475.0h3M235.8 398.7h3" stroke="#c9d2e0" stroke-width="1.15" opacity="0.39" fill="none"/><path d="M152.0 429.3h3M152.0 477.4h3M160.4 448.8h3M160.4 466.0h3M219.1 450.9h3M231.7 446.2h3M256.8 425.1h3" stroke="#58b6c9" stroke-width="1.15" opacity="0.59" fill="none"/><path d="M152.0 431.6h3M181.4 449.2h3M198.1 408.1h3M219.1 461.2h3M235.8 446.4h3M235.8 460.7h3" stroke="#ffffff" stroke-width="1.15" opacity="0.39" fill="none"/><path d="M152.0 433.7h3M152.0 464.8h3M198.1 459.1h3M219.1 424.0h3" stroke="#e3cf6a" stroke-width="1.15" opacity="0.17" fill="none"/><path d="M152.0 444.4h3M181.4 459.7h3M235.8 419.3h3" stroke="#ffffff" stroke-width="1.15" opacity="0.17" fill="none"/><path d="M152.0 446.3h3M173.0 421.1h3M198.1 435.0h3M219.1 425.9h3M231.7 450.4h3" stroke="#6ac7d2" stroke-width="1.15" opacity="0.59" fill="none"/><path d="M152.0 450.7h3M198.1 452.8h3M219.1 434.5h3M235.8 440.3h3" stroke="#cfd39a" stroke-width="1.15" opacity="0.28" fill="none"/><path d="M152.0 454.5h3M181.4 408.5h3M219.1 438.7h3M231.7 444.3h3" stroke="#aab6cf" stroke-width="1.15" opacity="0.17" fill="none"/><path d="M152.0 458.7h3M198.1 410.2h3" stroke="#7f9bd8" stroke-width="1.15" opacity="0.39" fill="none"/><path d="M152.0 460.6h3M181.4 467.7h3" stroke="#8f8fe0" stroke-width="1.15" opacity="0.17" fill="none"/><path d="M152.0 470.9h3M219.1 388.9h3" stroke="#d99a55" stroke-width="1.15" opacity="0.39" fill="none"/><path d="M156.2 408.2h3M185.5 446.5h3M189.7 441.4h3M189.7 464.3h3M210.7 418.4h3M210.7 457.2h3" stroke="#c9d2e0" stroke-width="1.15" opacity="0.53" fill="none"/><path d="M156.2 423.1h3M185.5 407.4h3" stroke="#cfd39a" stroke-width="1.15" opacity="0.16" fill="none"/><path d="M156.2 429.8h3M156.2 471.6h3M168.8 401.1h3M189.7 422.5h3M210.7 429.3h3M256.8 452.0h3M256.8 472.8h3" stroke="#c9d2e0" stroke-width="1.15" opacity="0.34" fill="none"/><path d="M156.2 431.9h3" stroke="#4f68c0" stroke-width="1.15" opacity="0.16" fill="none"/><path d="M156.2 440.3h3M189.7 468.3h3M210.7 414.0h3" stroke="#6ac7d2" stroke-width="1.15" opacity="0.44" fill="none"/><path d="M156.2 446.8h3" stroke="#5d7fd6" stroke-width="1.15" opacity="0.25" fill="none"/><path d="M156.2 448.9h3M156.2 453.1h3M185.5 399.4h3M185.5 455.1h3M185.5 465.2h3M189.7 398.2h3M210.7 474.0h3" stroke="#58b6c9" stroke-width="1.15" opacity="0.53" fill="none"/><path d="M156.2 457.3h3" stroke="#cfd39a" stroke-width="1.15" opacity="0.25" fill="none"/><path d="M156.2 473.5h3M189.7 409.3h3" stroke="#8fd0a8" stroke-width="1.15" opacity="0.16" fill="none"/><path d="M156.2 475.4h3" stroke="#d99a55" stroke-width="1.15" opacity="0.25" fill="none"/><path d="M160.4 391.3h3M256.8 429.3h3" stroke="#4f68c0" stroke-width="1.15" opacity="0.21" fill="none"/><path d="M160.4 393.6h3M160.4 417.1h3M256.8 416.9h3" stroke="#d99a55" stroke-width="1.15" opacity="0.72" fill="none"/><path d="M160.4 419.4h3M256.8 458.1h3" stroke="#cfd39a" stroke-width="1.15" opacity="0.47" fill="none"/><path d="M160.4 421.3h3M168.8 442.1h3M256.8 466.7h3" stroke="#aab6cf" stroke-width="1.15" opacity="0.21" fill="none"/><path d="M160.4 429.5h3M256.8 431.2h3M256.8 475.1h3" stroke="#aab6cf" stroke-width="1.15" opacity="0.72" fill="none"/><path d="M160.4 433.5h3M168.8 403.0h3M189.7 476.5h3M256.8 445.7h3M256.8 477.4h3" stroke="#8fd0a8" stroke-width="1.15" opacity="0.34" fill="none"/><path d="M160.4 435.8h3" stroke="#ffffff" stroke-width="1.15" opacity="0.21" fill="none"/><path d="M160.4 453.2h3M168.8 461.4h3M210.7 470.0h3" stroke="#cfd39a" stroke-width="1.15" opacity="0.34" fill="none"/><path d="M160.4 455.1h3M231.7 440.1h3" stroke="#e3cf6a" stroke-width="1.15" opacity="0.59" fill="none"/><path d="M160.4 461.6h3M168.8 444.2h3M198.1 448.4h3M219.1 475.5h3" stroke="#aab6cf" stroke-width="1.15" opacity="0.59" fill="none"/><path d="M160.4 463.7h3M256.8 439.8h3" stroke="#6ac7d2" stroke-width="1.15" opacity="0.47" fill="none"/><path d="M164.6 426.0h3M223.3 451.3h3M223.3 467.7h3" stroke="#8fd0a8" stroke-width="1.15" opacity="0.24" fill="none"/><path d="M164.6 428.3h3M177.2 438.0h3" stroke="#d99a55" stroke-width="1.15" opacity="0.38" fill="none"/><path d="M164.6 434.2h3M240.0 419.5h3M252.6 463.9h3" stroke="#8f8fe0" stroke-width="1.15" opacity="0.81" fill="none"/><path d="M164.6 464.4h3M244.2 459.9h3M252.6 470.4h3" stroke="#e3cf6a" stroke-width="1.15" opacity="0.66" fill="none"/><path d="M164.6 470.3h3M240.0 427.9h3" stroke="#4f68c0" stroke-width="1.15" opacity="0.81" fill="none"/><path d="M168.8 415.4h3M173.0 425.3h3" stroke="#7f9bd8" stroke-width="1.15" opacity="0.21" fill="none"/><path d="M168.8 421.5h3M173.0 456.2h3" stroke="#4f68c0" stroke-width="1.15" opacity="0.72" fill="none"/><path d="M168.8 432.4h3" stroke="#d99a55" stroke-width="1.15" opacity="0.21" fill="none"/><path d="M168.8 438.1h3M168.8 476.5h3M173.0 442.1h3" stroke="#58b6c9" stroke-width="1.15" opacity="0.72" fill="none"/><path d="M168.8 440.0h3" stroke="#cfd39a" stroke-width="1.15" opacity="0.21" fill="none"/><path d="M168.8 456.8h3M168.8 463.3h3M181.4 412.7h3M198.1 406.2h3M198.1 467.3h3" stroke="#cfd39a" stroke-width="1.15" opacity="0.59" fill="none"/><path d="M168.8 465.4h3" stroke="#8fd0a8" stroke-width="1.15" opacity="0.47" fill="none"/><path d="M173.0 429.7h3M219.1 436.8h3" stroke="#8f8fe0" stroke-width="1.15" opacity="0.59" fill="none"/><path d="M173.0 431.8h3" stroke="#8f8fe0" stroke-width="1.15" opacity="0.72" fill="none"/><path d="M173.0 444.0h3M173.0 470.3h3" stroke="#8fd0a8" stroke-width="1.15" opacity="0.72" fill="none"/><path d="M173.0 445.9h3" stroke="#5d7fd6" stroke-width="1.15" opacity="0.21" fill="none"/><path d="M173.0 447.8h3" stroke="#ffffff" stroke-width="1.15" opacity="0.47" fill="none"/><path d="M173.0 450.1h3" stroke="#ffffff" stroke-width="1.15" opacity="0.72" fill="none"/><path d="M173.0 452.0h3" stroke="#e3cf6a" stroke-width="1.15" opacity="0.21" fill="none"/><path d="M173.0 460.0h3" stroke="#8fd0a8" stroke-width="1.15" opacity="0.21" fill="none"/><path d="M173.0 465.9h3M235.8 400.8h3" stroke="#7f9bd8" stroke-width="1.15" opacity="0.59" fill="none"/><path d="M173.0 474.7h3M189.7 462.4h3M256.8 435.4h3" stroke="#5d7fd6" stroke-width="1.15" opacity="0.34" fill="none"/><path d="M173.0 478.5h3M181.4 419.2h3M198.1 427.0h3M235.8 434.2h3" stroke="#8fd0a8" stroke-width="1.15" opacity="0.59" fill="none"/><path d="M177.2 393.4h3M177.2 413.2h3M214.9 463.8h3M240.0 413.0h3M248.4 473.0h3M261.0 425.7h3M261.0 460.6h3" stroke="#cfd39a" stroke-width="1.15" opacity="0.66" fill="none"/><path d="M177.2 419.5h3M193.9 471.9h3M240.0 394.7h3M252.6 441.0h3" stroke="#e3cf6a" stroke-width="1.15" opacity="0.24" fill="none"/><path d="M177.2 467.8h3M223.3 443.1h3" stroke="#d99a55" stroke-width="1.15" opacity="0.24" fill="none"/><path d="M181.4 410.4h3" stroke="#aab6cf" stroke-width="1.15" opacity="0.28" fill="none"/><path d="M181.4 421.1h3" stroke="#6ac7d2" stroke-width="1.15" opacity="0.39" fill="none"/><path d="M181.4 427.6h3M219.1 420.0h3M231.7 410.7h3" stroke="#c9d2e0" stroke-width="1.15" opacity="0.49" fill="none"/><path d="M181.4 444.8h3M219.1 448.6h3" stroke="#5d7fd6" stroke-width="1.15" opacity="0.17" fill="none"/><path d="M181.4 451.1h3M181.4 455.7h3M219.1 463.5h3M219.1 477.6h3" stroke="#4f68c0" stroke-width="1.15" opacity="0.28" fill="none"/><path d="M181.4 453.4h3M235.8 423.7h3M235.8 438.0h3M235.8 467.4h3" stroke="#6ac7d2" stroke-width="1.15" opacity="0.28" fill="none"/><path d="M181.4 469.8h3M198.1 416.7h3M231.7 458.6h3M235.8 402.7h3" stroke="#5d7fd6" stroke-width="1.15" opacity="0.28" fill="none"/><path d="M181.4 471.9h3" stroke="#dfe6ee" stroke-width="1.15" opacity="0.39" fill="none"/><path d="M181.4 475.9h3M198.1 414.4h3M198.1 437.1h3M231.7 417.0h3M235.8 428.3h3" stroke="#dfe6ee" stroke-width="1.15" opacity="0.28" fill="none"/><path d="M185.5 411.2h3" stroke="#8f8fe0" stroke-width="1.15" opacity="0.25" fill="none"/><path d="M185.5 415.4h3" stroke="#58b6c9" stroke-width="1.15" opacity="0.25" fill="none"/><path d="M185.5 419.8h3M185.5 463.1h3M189.7 474.4h3" stroke="#7f9bd8" stroke-width="1.15" opacity="0.25" fill="none"/><path d="M185.5 428.2h3M189.7 472.5h3M210.7 444.4h3" stroke="#6ac7d2" stroke-width="1.15" opacity="0.25" fill="none"/><path d="M185.5 430.5h3M210.7 407.7h3M210.7 411.9h3" stroke="#7f9bd8" stroke-width="1.15" opacity="0.44" fill="none"/><path d="M185.5 440.2h3M189.7 456.1h3M210.7 451.1h3" stroke="#cfd39a" stroke-width="1.15" opacity="0.53" fill="none"/><path d="M185.5 444.4h3M210.7 395.5h3" stroke="#4f68c0" stroke-width="1.15" opacity="0.44" fill="none"/><path d="M185.5 461.2h3" stroke="#8f8fe0" stroke-width="1.15" opacity="0.53" fill="none"/><path d="M185.5 467.5h3M210.7 448.8h3" stroke="#8fd0a8" stroke-width="1.15" opacity="0.44" fill="none"/><path d="M185.5 477.6h3M189.7 413.7h3" stroke="#4f68c0" stroke-width="1.15" opacity="0.53" fill="none"/><path d="M189.7 402.6h3" stroke="#d99a55" stroke-width="1.15" opacity="0.53" fill="none"/><path d="M189.7 407.0h3M210.7 439.8h3M210.7 455.3h3" stroke="#5d7fd6" stroke-width="1.15" opacity="0.16" fill="none"/><path d="M189.7 411.6h3M210.7 476.3h3" stroke="#6ac7d2" stroke-width="1.15" opacity="0.16" fill="none"/><path d="M189.7 433.4h3M210.7 420.5h3" stroke="#7f9bd8" stroke-width="1.15" opacity="0.53" fill="none"/><path d="M189.7 435.3h3M189.7 470.6h3" stroke="#dfe6ee" stroke-width="1.15" opacity="0.44" fill="none"/><path d="M189.7 439.3h3M210.7 425.1h3" stroke="#8f8fe0" stroke-width="1.15" opacity="0.16" fill="none"/><path d="M189.7 443.3h3" stroke="#e3cf6a" stroke-width="1.15" opacity="0.25" fill="none"/><path d="M189.7 458.2h3" stroke="#d99a55" stroke-width="1.15" opacity="0.16" fill="none"/><path d="M189.7 466.2h3" stroke="#8fd0a8" stroke-width="1.15" opacity="0.53" fill="none"/><path d="M189.7 478.6h3" stroke="#aab6cf" stroke-width="1.15" opacity="0.16" fill="none"/><path d="M193.9 428.0h3M248.4 435.0h3M252.6 442.9h3" stroke="#4f68c0" stroke-width="1.15" opacity="0.38" fill="none"/><path d="M193.9 474.2h3" stroke="#6ac7d2" stroke-width="1.15" opacity="0.52" fill="none"/><path d="M198.1 394.0h3M219.1 403.2h3" stroke="#8fd0a8" stroke-width="1.15" opacity="0.28" fill="none"/><path d="M198.1 428.9h3" stroke="#e3cf6a" stroke-width="1.15" opacity="0.49" fill="none"/><path d="M198.1 433.1h3M198.1 475.3h3M219.1 469.2h3M219.1 471.5h3" stroke="#8f8fe0" stroke-width="1.15" opacity="0.39" fill="none"/><path d="M198.1 465.0h3M198.1 469.2h3" stroke="#8fd0a8" stroke-width="1.15" opacity="0.49" fill="none"/><path d="M202.3 406.5h3" stroke="#58b6c9" stroke-width="1.15" opacity="0.36" fill="none"/><path d="M202.3 408.4h3M202.3 422.7h3M206.5 444.6h3" stroke="#dfe6ee" stroke-width="1.15" opacity="0.23" fill="none"/><path d="M202.3 412.6h3" stroke="#ffffff" stroke-width="1.15" opacity="0.36" fill="none"/><path d="M202.3 418.7h3" stroke="#5d7fd6" stroke-width="1.15" opacity="0.5" fill="none"/><path d="M202.3 420.6h3M227.5 444.8h3" stroke="#8f8fe0" stroke-width="1.15" opacity="0.5" fill="none"/><path d="M202.3 427.3h3M202.3 472.2h3" stroke="#dfe6ee" stroke-width="1.15" opacity="0.36" fill="none"/><path d="M202.3 429.4h3" stroke="#cfd39a" stroke-width="1.15" opacity="0.5" fill="none"/><path d="M202.3 431.7h3M206.5 440.6h3M227.5 399.4h3" stroke="#c9d2e0" stroke-width="1.15" opacity="0.36" fill="none"/><path d="M202.3 434.0h3M206.5 449.0h3" stroke="#aab6cf" stroke-width="1.15" opacity="0.63" fill="none"/><path d="M202.3 440.3h3M227.5 432.8h3" stroke="#e3cf6a" stroke-width="1.15" opacity="0.5" fill="none"/><path d="M202.3 442.2h3M202.3 454.8h3" stroke="#ffffff" stroke-width="1.15" opacity="0.63" fill="none"/><path d="M202.3 444.1h3" stroke="#dfe6ee" stroke-width="1.15" opacity="0.77" fill="none"/><path d="M202.3 446.4h3M206.5 454.9h3M206.5 461.2h3" stroke="#5d7fd6" stroke-width="1.15" opacity="0.23" fill="none"/><path d="M202.3 448.5h3M206.5 471.7h3" stroke="#cfd39a" stroke-width="1.15" opacity="0.36" fill="none"/><path d="M202.3 450.6h3" stroke="#8fd0a8" stroke-width="1.15" opacity="0.77" fill="none"/><path d="M202.3 452.9h3M206.5 446.9h3M227.5 420.0h3" stroke="#e3cf6a" stroke-width="1.15" opacity="0.63" fill="none"/><path d="M202.3 463.6h3" stroke="#dfe6ee" stroke-width="1.15" opacity="0.5" fill="none"/><path d="M202.3 465.9h3" stroke="#7f9bd8" stroke-width="1.15" opacity="0.77" fill="none"/><path d="M202.3 470.1h3" stroke="#aab6cf" stroke-width="1.15" opacity="0.5" fill="none"/><path d="M202.3 474.1h3" stroke="#8fd0a8" stroke-width="1.15" opacity="0.23" fill="none"/><path d="M202.3 476.0h3M206.5 457.0h3" stroke="#5d7fd6" stroke-width="1.15" opacity="0.77" fill="none"/><path d="M206.5 417.9h3M206.5 422.1h3" stroke="#58b6c9" stroke-width="1.15" opacity="0.23" fill="none"/><path d="M206.5 419.8h3M206.5 450.9h3M227.5 430.7h3M227.5 442.9h3M227.5 472.7h3" stroke="#e3cf6a" stroke-width="1.15" opacity="0.77" fill="none"/><path d="M206.5 424.0h3M206.5 478.4h3" stroke="#58b6c9" stroke-width="1.15" opacity="0.63" fill="none"/><path d="M206.5 425.9h3" stroke="#6ac7d2" stroke-width="1.15" opacity="0.77" fill="none"/><path d="M206.5 428.2h3M206.5 432.6h3" stroke="#ffffff" stroke-width="1.15" opacity="0.77" fill="none"/><path d="M206.5 430.5h3M227.5 451.3h3M227.5 476.9h3" stroke="#d99a55" stroke-width="1.15" opacity="0.23" fill="none"/><path d="M206.5 434.9h3M227.5 478.8h3" stroke="#c9d2e0" stroke-width="1.15" opacity="0.77" fill="none"/><path d="M206.5 436.8h3M227.5 393.3h3" stroke="#4f68c0" stroke-width="1.15" opacity="0.77" fill="none"/><path d="M206.5 442.7h3" stroke="#dfe6ee" stroke-width="1.15" opacity="0.63" fill="none"/><path d="M206.5 459.3h3M227.5 447.1h3M227.5 457.6h3" stroke="#5d7fd6" stroke-width="1.15" opacity="0.63" fill="none"/><path d="M206.5 463.3h3" stroke="#c9d2e0" stroke-width="1.15" opacity="0.23" fill="none"/><path d="M206.5 465.6h3" stroke="#5d7fd6" stroke-width="1.15" opacity="0.36" fill="none"/><path d="M206.5 467.9h3M227.5 409.7h3" stroke="#7f9bd8" stroke-width="1.15" opacity="0.63" fill="none"/><path d="M206.5 469.8h3" stroke="#aab6cf" stroke-width="1.15" opacity="0.23" fill="none"/><path d="M206.5 476.3h3" stroke="#aab6cf" stroke-width="1.15" opacity="0.77" fill="none"/><path d="M210.7 403.5h3" stroke="#dfe6ee" stroke-width="1.15" opacity="0.25" fill="none"/><path d="M214.9 445.6h3" stroke="#58b6c9" stroke-width="1.15" opacity="0.43" fill="none"/><path d="M214.9 459.2h3" stroke="#cfd39a" stroke-width="1.15" opacity="0.43" fill="none"/><path d="M214.9 465.7h3" stroke="#6ac7d2" stroke-width="1.15" opacity="0.54" fill="none"/><path d="M219.1 393.1h3M235.8 458.6h3" stroke="#7f9bd8" stroke-width="1.15" opacity="0.28" fill="none"/><path d="M219.1 422.1h3" stroke="#4f68c0" stroke-width="1.15" opacity="0.39" fill="none"/><path d="M219.1 430.1h3M219.1 444.6h3M231.7 412.6h3M231.7 438.0h3M231.7 452.5h3M235.8 409.0h3M235.8 421.4h3M235.8 430.2h3M235.8 444.3h3M235.8 465.3h3" stroke="#c9d2e0" stroke-width="1.15" opacity="0.17" fill="none"/><path d="M219.1 455.1h3M235.8 436.1h3" stroke="#d99a55" stroke-width="1.15" opacity="0.49" fill="none"/><path d="M223.3 453.4h3M248.4 447.6h3M252.6 452.8h3M252.6 468.3h3" stroke="#cfd39a" stroke-width="1.15" opacity="0.81" fill="none"/><path d="M223.3 457.4h3" stroke="#6ac7d2" stroke-width="1.15" opacity="0.81" fill="none"/><path d="M227.5 405.5h3" stroke="#d99a55" stroke-width="1.15" opacity="0.63" fill="none"/><path d="M227.5 413.9h3M227.5 415.8h3" stroke="#aab6cf" stroke-width="1.15" opacity="0.36" fill="none"/><path d="M227.5 422.3h3M227.5 449.2h3" stroke="#58b6c9" stroke-width="1.15" opacity="0.77" fill="none"/><path d="M227.5 426.5h3" stroke="#6ac7d2" stroke-width="1.15" opacity="0.23" fill="none"/><path d="M227.5 437.2h3" stroke="#d99a55" stroke-width="1.15" opacity="0.77" fill="none"/><path d="M227.5 453.4h3" stroke="#4f68c0" stroke-width="1.15" opacity="0.63" fill="none"/><path d="M227.5 455.7h3" stroke="#e3cf6a" stroke-width="1.15" opacity="0.36" fill="none"/><path d="M227.5 459.9h3" stroke="#7f9bd8" stroke-width="1.15" opacity="0.36" fill="none"/><path d="M227.5 464.1h3M227.5 466.4h3" stroke="#8f8fe0" stroke-width="1.15" opacity="0.23" fill="none"/><path d="M227.5 470.6h3" stroke="#6ac7d2" stroke-width="1.15" opacity="0.63" fill="none"/><path d="M227.5 475.0h3" stroke="#8fd0a8" stroke-width="1.15" opacity="0.36" fill="none"/><path d="M231.7 418.9h3" stroke="#8fd0a8" stroke-width="1.15" opacity="0.39" fill="none"/><path d="M235.8 469.3h3" stroke="#8f8fe0" stroke-width="1.15" opacity="0.28" fill="none"/><path d="M240.0 402.7h3" stroke="#8f8fe0" stroke-width="1.15" opacity="0.38" fill="none"/><path d="M240.0 415.3h3M248.4 415.1h3" stroke="#cfd39a" stroke-width="1.15" opacity="0.24" fill="none"/><path d="M240.0 442.8h3M248.4 412.8h3" stroke="#7f9bd8" stroke-width="1.15" opacity="0.81" fill="none"/><path d="M244.2 428.6h3" stroke="#8f8fe0" stroke-width="1.15" opacity="0.54" fill="none"/><path d="M244.2 471.9h3" stroke="#ffffff" stroke-width="1.15" opacity="0.43" fill="none"/><path d="M244.2 474.2h3" stroke="#6ac7d2" stroke-width="1.15" opacity="0.43" fill="none"/><path d="M244.2 478.2h3" stroke="#ffffff" stroke-width="1.15" opacity="0.19" fill="none"/><path d="M252.6 426.7h3M261.0 456.6h3" stroke="#7f9bd8" stroke-width="1.15" opacity="0.66" fill="none"/><path d="M256.8 414.8h3" stroke="#e3cf6a" stroke-width="1.15" opacity="0.72" fill="none"/><path d="M256.8 456.0h3" stroke="#cfd39a" stroke-width="1.15" opacity="0.72" fill="none"/><path d="M256.8 462.1h3" stroke="#e3cf6a" stroke-width="1.15" opacity="0.47" fill="none"/></g></g>
<g filter="url(#b1)"><rect x="335.5" y="427" width="286.5" height="33.5" fill="#fff"/><line x1="335.5" y1="427" x2="335.5" y2="460.5" stroke="#8a99ad" stroke-width=".6"/><line x1="335.5" y1="460.5" x2="622" y2="460.5" stroke="#8a99ad" stroke-width=".6"/><polyline points="336.0,449.4 336.8,449.6 337.6,448.8 338.4,449.7 339.2,448.4 340.0,448.5 340.8,449.2 341.6,449.7 342.4,448.2 343.2,448.5 344.0,448.2 344.8,448.9 345.6,448.4 346.4,448.4" fill="none" stroke="#d93a4a" stroke-width="1.5"/><polyline points="351.0,449.4 351.8,449.1 352.6,449.8 353.4,448.8 354.2,449.3 355.0,448.1 355.8,449.8 356.6,448.5 357.4,449.0 358.2,449.0 359.0,449.8 359.8,449.0 360.6,449.9 361.4,449.2 362.2,448.5" fill="none" stroke="#d93a4a" stroke-width="1.5"/><polyline points="363.0,448.9 363.8,447.8 364.6,449.2 365.4,448.2 366.2,447.8 367.0,449.1 367.8,448.0 368.6,448.1 369.4,448.0 370.2,448.6 371.0,447.4 371.8,448.1 372.6,447.7 373.4,448.9 374.2,447.4 375.0,448.5 375.8,447.9 376.6,448.2 377.4,448.4 378.2,448.7 379.0,447.6 379.8,447.8" fill="none" stroke="#3aa857" stroke-width="1.5"/><polyline points="380.0,448.8 380.8,450.3 381.6,448.9 382.4,448.8 383.2,449.5 384.0,449.6 384.8,450.2 385.6,448.7 386.4,449.0 387.2,448.9 388.0,449.7 388.8,449.4 389.6,449.3 390.4,450.2" fill="none" stroke="#3aa857" stroke-width="1.5"/><polyline points="391.0,449.6 391.8,449.9 392.6,450.1 393.4,448.9 394.2,450.1 395.0,449.1 395.8,448.5 396.6,450.0 397.4,448.6 398.2,448.4 399.0,448.9 399.8,448.9 400.6,450.1 401.4,450.0 402.2,449.2" fill="none" stroke="#d93a4a" stroke-width="1.5"/><polyline points="403.0,449.1 403.8,449.6 404.6,449.6 405.4,449.3 406.2,449.0 407.0,448.3 407.8,448.5 408.6,449.3 409.4,449.2 410.2,449.5 411.0,449.7 411.8,449.8 412.6,448.4 413.4,448.2 414.2,449.7" fill="none" stroke="#d93a4a" stroke-width="1.5"/><polyline points="415.0,449.7 415.8,449.0 416.6,449.9 417.4,449.2 418.2,449.1 419.0,449.4 419.8,449.6 420.6,449.9 421.4,448.8 422.2,450.0 423.0,449.8 423.8,449.5 424.6,449.9 425.4,450.1 426.2,448.7 427.0,449.6 427.8,449.9 428.6,450.0 429.4,449.9 430.2,449.0 431.0,450.4 431.8,450.1 432.6,449.1 433.4,449.5 434.2,450.4" fill="none" stroke="#3aa857" stroke-width="1.5"/><polyline points="435.0,448.9 435.8,449.2 436.6,450.2 437.4,450.1 438.2,448.9 439.0,449.8 439.8,449.1 440.6,449.7 441.4,449.9 442.2,448.7 443.0,448.9 443.8,448.9 444.6,449.0 445.4,448.6 446.2,448.7 447.0,449.2 447.8,449.3 448.6,448.6 449.4,449.5 450.2,450.2 451.0,449.5 451.8,449.1 452.6,449.8 453.4,449.3 454.2,448.8 455.0,449.4 455.8,448.5" fill="none" stroke="#d93a4a" stroke-width="1.5"/><polyline points="456.5,444.1 457.3,443.2 458.1,443.6 458.9,444.6 459.7,444.3 460.5,444.4 461.3,444.1 462.1,444.0 462.9,444.2 463.7,444.6 464.5,443.3 465.3,444.3 466.1,443.4 466.9,443.4 467.7,444.4 468.5,444.0 469.3,444.4 470.1,444.5 470.9,444.0 471.7,443.3 472.5,442.9 473.3,443.9 474.1,444.2 474.9,443.4 475.7,443.0 476.5,442.9" fill="none" stroke="#3aa857" stroke-width="1.5"/><polyline points="477.0,448.7 477.8,449.7 478.6,448.4 479.4,448.8 480.2,448.9 481.0,449.7 481.8,450.2 482.6,448.4 483.4,448.6 484.2,450.1 485.0,450.1 485.8,448.7 486.6,449.0 487.4,449.3 488.2,449.0 489.0,449.2 489.8,449.3 490.6,448.9 491.4,448.5 492.2,448.6 493.0,448.7 493.8,448.6 494.6,449.5 495.4,449.7 496.2,448.9" fill="none" stroke="#d93a4a" stroke-width="1.5"/><polyline points="497.0,450.0 497.8,449.9 498.6,449.2 499.4,449.5 500.2,448.9 501.0,450.3 501.8,449.6 502.6,448.7 503.4,448.9 504.2,449.8 505.0,449.3 505.8,449.9 506.6,449.0 507.4,450.0 508.2,450.0 509.0,448.8 509.8,449.7" fill="none" stroke="#3aa857" stroke-width="1.5"/><polyline points="510.0,449.2 510.8,450.2 511.6,450.3 512.4,450.3 513.2,449.3 514.0,449.1 514.8,450.1 515.6,449.9 516.4,449.1 517.2,449.2 518.0,449.9" fill="none" stroke="#d93a4a" stroke-width="1.5"/><polyline points="518.0,447.1 518.8,448.0 519.6,447.3 520.4,447.4 521.2,447.7 522.0,447.9 522.8,448.2 523.6,447.0 524.4,448.2 525.2,447.3 526.0,447.4 526.8,448.1 527.6,448.1 528.4,448.0 529.2,448.5 530.0,447.3" fill="none" stroke="#3aa857" stroke-width="1.5"/><polyline points="530.0,448.2 530.8,448.8 531.6,448.1 532.4,447.9 533.2,448.0 534.0,449.0 534.8,449.1 535.6,448.9 536.4,449.3 537.2,449.0 538.0,448.2 538.8,448.2 539.6,448.9 540.4,447.7 541.2,448.7 542.0,447.8 542.8,447.7 543.6,448.5 544.4,447.9" fill="none" stroke="#3aa857" stroke-width="1.5"/><polyline points="545.0,450.8 545.8,450.7 546.6,449.9 547.4,449.5 548.2,449.3 549.0,450.0 549.8,450.0 550.6,449.8 551.4,450.4 552.2,450.1 553.0,450.5 553.8,449.3 554.6,449.2 555.4,449.8 556.2,450.0 557.0,449.6 557.8,450.3 558.6,449.5 559.4,449.7" fill="none" stroke="#d93a4a" stroke-width="1.5"/><polyline points="560.0,448.6 560.8,449.0 561.6,449.1 562.4,448.4 563.2,448.5 564.0,449.4 564.8,449.4 565.6,448.8 566.4,447.9 567.2,448.5 568.0,448.8 568.8,448.2 569.6,447.8 570.4,449.5 571.2,449.3 572.0,447.9 572.8,448.5 573.6,448.8 574.4,448.2" fill="none" stroke="#3aa857" stroke-width="1.5"/><polyline points="577.0,447.2 577.8,448.5 578.6,448.5 579.4,447.9 580.2,447.3 581.0,447.8 581.8,447.3 582.6,448.8 583.4,447.2 584.2,447.6 585.0,448.5 585.8,447.3 586.6,447.3 587.4,447.2" fill="none" stroke="#d93a4a" stroke-width="1.5"/><polyline points="590.0,454.7 590.8,455.4 591.6,455.9 592.4,454.7 593.2,454.7 594.0,455.8 594.8,455.2 595.6,455.0 596.4,454.6 597.2,454.8 598.0,456.1 598.8,454.6 599.6,454.9" fill="none" stroke="#3aa857" stroke-width="1.5"/><polyline points="602.0,449.2 602.8,449.5 603.6,449.5 604.4,448.8 605.2,449.6 606.0,449.0 606.8,448.4 607.6,448.7 608.4,449.2 609.2,449.2 610.0,448.1 610.8,448.2 611.6,449.6" fill="none" stroke="#d93a4a" stroke-width="1.5"/><polyline points="612.0,447.8 612.8,449.1 613.6,448.2 614.4,448.0 615.2,448.1 616.0,448.4 616.8,449.4 617.6,447.9 618.4,449.1 619.2,448.2 620.0,447.9 620.8,448.9 621.6,448.2" fill="none" stroke="#3aa857" stroke-width="1.5"/></g>
<text x="331.5" y="428.5" font-size="2.6" text-anchor="middle" fill="#6c7d95" font-family="Liberation Sans,sans-serif">3</text><text x="331.5" y="439.5" font-size="2.6" text-anchor="middle" fill="#6c7d95" font-family="Liberation Sans,sans-serif">2</text><text x="331.5" y="450.5" font-size="2.6" text-anchor="middle" fill="#6c7d95" font-family="Liberation Sans,sans-serif">1</text><text x="331.5" y="461.5" font-size="2.6" text-anchor="middle" fill="#6c7d95" font-family="Liberation Sans,sans-serif">0</text><text x="343" y="465" font-size="2.6" text-anchor="middle" fill="#6c7d95" font-family="Liberation Sans,sans-serif">1</text><text x="371" y="465" font-size="2.6" text-anchor="middle" fill="#6c7d95" font-family="Liberation Sans,sans-serif">2</text><text x="397" y="465" font-size="2.6" text-anchor="middle" fill="#6c7d95" font-family="Liberation Sans,sans-serif">3</text><text x="419" y="465" font-size="2.6" text-anchor="middle" fill="#6c7d95" font-family="Liberation Sans,sans-serif">4</text><text x="440" y="465" font-size="2.6" text-anchor="middle" fill="#6c7d95" font-family="Liberation Sans,sans-serif">5</text><text x="463" y="465" font-size="2.6" text-anchor="middle" fill="#6c7d95" font-family="Liberation Sans,sans-serif">6</text><text x="481" y="465" font-size="2.6" text-anchor="middle" fill="#6c7d95" font-family="Liberation Sans,sans-serif">7</text><text x="498" y="465" font-size="2.6" text-anchor="middle" fill="#6c7d95" font-family="Liberation Sans,sans-serif">8</text><text x="513" y="465" font-size="2.6" text-anchor="middle" fill="#6c7d95" font-family="Liberation Sans,sans-serif">9</text><text x="528" y="465" font-size="2.6" text-anchor="middle" fill="#6c7d95" font-family="Liberation Sans,sans-serif">10</text><text x="541" y="465" font-size="2.6" text-anchor="middle" fill="#6c7d95" font-family="Liberation Sans,sans-serif">11</text><text x="555" y="465" font-size="2.6" text-anchor="middle" fill="#6c7d95" font-family="Liberation Sans,sans-serif">12</text><text x="568" y="465" font-size="2.6" text-anchor="middle" fill="#6c7d95" font-family="Liberation Sans,sans-serif">13</text><text x="580" y="465" font-size="2.6" text-anchor="middle" fill="#6c7d95" font-family="Liberation Sans,sans-serif">14</text><text x="591" y="465" font-size="2.6" text-anchor="middle" fill="#6c7d95" font-family="Liberation Sans,sans-serif">15</text><text x="602" y="465" font-size="2.6" text-anchor="middle" fill="#6c7d95" font-family="Liberation Sans,sans-serif">16</text><text x="613" y="465" font-size="2.6" text-anchor="middle" fill="#6c7d95" font-family="Liberation Sans,sans-serif">17</text><text x="620" y="465" font-size="2.6" text-anchor="middle" fill="#6c7d95" font-family="Liberation Sans,sans-serif">18</text>
</svg>
<div class="lab" style="top:70px;left:-0.6px;font-size:13.5px;letter-spacing:2.1px;text-indent:2.1px;font-weight:700">樣本製備</div>
<div class="lab" style="top:254.3px;left:-0.2px;font-family:'Liberation Sans','Noto Sans CJK SC',sans-serif;font-weight:300;font-size:13.5px;letter-spacing:2.1px;text-indent:2.1px">文庫構建</div>
<div class="lab" style="top:433.5px;left:2.4px;font-size:14.5px;letter-spacing:.6px;text-indent:.6px;font-weight:700">高通量測序</div>
<div class="cap" style="left:266px;top:101.7px">胚胎活檢</div>
<div class="cap" style="left:468px;top:104.2px">全基因组擴增</div>
<div class="cap" style="left:258px;top:300px">接頭連接</div>
<div class="cap" style="left:473.7px;top:300px">文庫PCR</div>
<div class="cap" style="left:180.3px;top:483.7px;font-size:10px;color:#5a5f68">測序</div>
<div class="cap" style="left:475.3px;top:475.6px;font-size:11px;font-weight:600;color:#3b4656">生物信息分析</div>
<div class="wm"><span style="display:inline-block;transform:scaleX(.7);transform-origin:100% 50%">2</span>岁婴儿牙膏品牌排名曝</div>
</body></html>
